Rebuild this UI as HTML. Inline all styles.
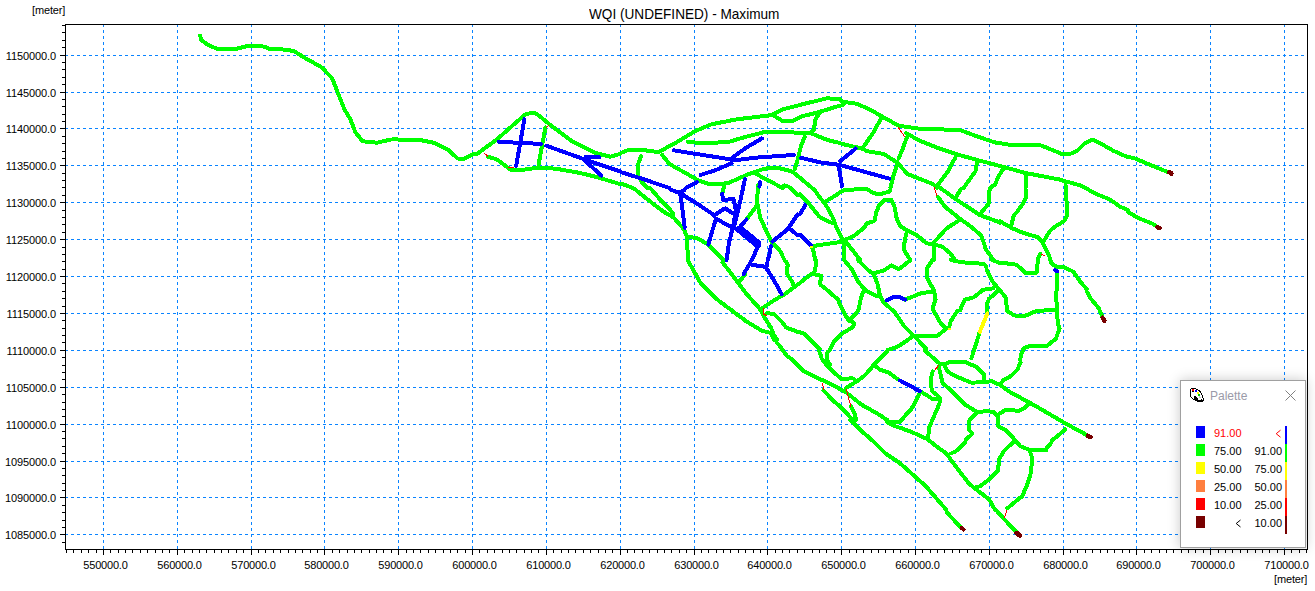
<!DOCTYPE html>
<html><head><meta charset="utf-8"><style>
html,body{margin:0;padding:0;background:#fff;width:1315px;height:591px;overflow:hidden;position:relative;font-family:"Liberation Sans",sans-serif;}
svg{position:absolute;left:0;top:0}
.xl{position:absolute;width:80px;text-align:center;font-size:11px;letter-spacing:-0.2px;line-height:14px;color:#000;white-space:nowrap}
.yl{position:absolute;left:0;width:56px;text-align:right;font-size:11px;letter-spacing:-0.1px;line-height:14px;color:#000;white-space:nowrap}
.t{position:absolute;font-size:13px;line-height:16px;color:#000;white-space:nowrap}
#pal{position:absolute;left:1180px;top:380px;width:124px;height:166px;background:#fff;border:1px solid #a0a0a0;box-shadow:0 0 12px rgba(0,0,0,0.22)}
#pal .ti{position:absolute;left:29px;top:8px;font-size:12px;color:#9a9aa8;}
.sq{position:absolute;left:15px;width:9px;height:12px}
.v1{position:absolute;left:33px;width:28px;text-align:left;font-size:11px;line-height:14px}
.v2{position:absolute;left:73px;width:28px;text-align:right;font-size:11px;line-height:14px}
.bar{position:absolute;left:104px;width:2px;height:18px}
</style></head><body>
<svg width="1315" height="591" viewBox="0 0 1315 591">
<path d="M103.5 24V549 M177.5 24V549 M251.5 24V549 M324.5 24V549 M398.5 24V549 M472.5 24V549 M546.5 24V549 M620.5 24V549 M694.5 24V549 M767.5 24V549 M841.5 24V549 M915.5 24V549 M989.5 24V549 M1063.5 24V549 M1136.5 24V549 M1210.5 24V549 M1284.5 24V549 M65 534.5H1307 M65 497.5H1307 M65 461.5H1307 M65 424.5H1307 M65 387.5H1307 M65 350.5H1307 M65 313.5H1307 M65 276.5H1307 M65 239.5H1307 M65 202.5H1307 M65 165.5H1307 M65 128.5H1307 M65 92.5H1307 M65 55.5H1307" stroke="#0a84ff" stroke-width="1" stroke-dasharray="3,3" fill="none" shape-rendering="crispEdges"/>
<path d="M65 24.5H1308 M65 549.5H1308 M65.5 24V550 M1307.5 24V550 M66.5 550v3 M73.5 550v3 M81.5 550v3 M88.5 550v3 M96.5 550v3 M103.5 550v5 M110.5 550v3 M118.5 550v3 M125.5 550v3 M132.5 550v3 M140.5 550v3 M147.5 550v3 M155.5 550v3 M162.5 550v3 M169.5 550v3 M177.5 550v5 M184.5 550v3 M192.5 550v3 M199.5 550v3 M206.5 550v3 M214.5 550v3 M221.5 550v3 M228.5 550v3 M236.5 550v3 M243.5 550v3 M251.5 550v5 M258.5 550v3 M265.5 550v3 M273.5 550v3 M280.5 550v3 M288.5 550v3 M295.5 550v3 M302.5 550v3 M310.5 550v3 M317.5 550v3 M324.5 550v5 M332.5 550v3 M339.5 550v3 M347.5 550v3 M354.5 550v3 M361.5 550v3 M369.5 550v3 M376.5 550v3 M383.5 550v3 M391.5 550v3 M398.5 550v5 M406.5 550v3 M413.5 550v3 M420.5 550v3 M428.5 550v3 M435.5 550v3 M443.5 550v3 M450.5 550v3 M457.5 550v3 M465.5 550v3 M472.5 550v5 M479.5 550v3 M487.5 550v3 M494.5 550v3 M502.5 550v3 M509.5 550v3 M516.5 550v3 M524.5 550v3 M531.5 550v3 M538.5 550v3 M546.5 550v5 M553.5 550v3 M561.5 550v3 M568.5 550v3 M575.5 550v3 M583.5 550v3 M590.5 550v3 M598.5 550v3 M605.5 550v3 M612.5 550v3 M620.5 550v5 M627.5 550v3 M634.5 550v3 M642.5 550v3 M649.5 550v3 M657.5 550v3 M664.5 550v3 M671.5 550v3 M679.5 550v3 M686.5 550v3 M694.5 550v5 M701.5 550v3 M708.5 550v3 M716.5 550v3 M723.5 550v3 M730.5 550v3 M738.5 550v3 M745.5 550v3 M753.5 550v3 M760.5 550v3 M767.5 550v5 M775.5 550v3 M782.5 550v3 M789.5 550v3 M797.5 550v3 M804.5 550v3 M812.5 550v3 M819.5 550v3 M826.5 550v3 M834.5 550v3 M841.5 550v5 M849.5 550v3 M856.5 550v3 M863.5 550v3 M871.5 550v3 M878.5 550v3 M885.5 550v3 M893.5 550v3 M900.5 550v3 M908.5 550v3 M915.5 550v5 M922.5 550v3 M930.5 550v3 M937.5 550v3 M944.5 550v3 M952.5 550v3 M959.5 550v3 M967.5 550v3 M974.5 550v3 M981.5 550v3 M989.5 550v5 M996.5 550v3 M1004.5 550v3 M1011.5 550v3 M1018.5 550v3 M1026.5 550v3 M1033.5 550v3 M1040.5 550v3 M1048.5 550v3 M1055.5 550v3 M1063.5 550v5 M1070.5 550v3 M1077.5 550v3 M1085.5 550v3 M1092.5 550v3 M1100.5 550v3 M1107.5 550v3 M1114.5 550v3 M1122.5 550v3 M1129.5 550v3 M1136.5 550v5 M1144.5 550v3 M1151.5 550v3 M1159.5 550v3 M1166.5 550v3 M1173.5 550v3 M1181.5 550v3 M1188.5 550v3 M1195.5 550v3 M1203.5 550v3 M1210.5 550v5 M1218.5 550v3 M1225.5 550v3 M1232.5 550v3 M1240.5 550v3 M1247.5 550v3 M1255.5 550v3 M1262.5 550v3 M1269.5 550v3 M1277.5 550v3 M1284.5 550v5 M1291.5 550v3 M1299.5 550v3 M1306.5 550v3 M62 25.5H65 M62 32.5H65 M62 40.5H65 M62 47.5H65 M60 55.5H65 M62 62.5H65 M62 69.5H65 M62 77.5H65 M62 84.5H65 M60 92.5H65 M62 99.5H65 M62 106.5H65 M62 114.5H65 M62 121.5H65 M60 128.5H65 M62 136.5H65 M62 143.5H65 M62 151.5H65 M62 158.5H65 M60 165.5H65 M62 173.5H65 M62 180.5H65 M62 187.5H65 M62 195.5H65 M60 202.5H65 M62 210.5H65 M62 217.5H65 M62 224.5H65 M62 232.5H65 M60 239.5H65 M62 247.5H65 M62 254.5H65 M62 261.5H65 M62 269.5H65 M60 276.5H65 M62 283.5H65 M62 291.5H65 M62 298.5H65 M62 306.5H65 M60 313.5H65 M62 320.5H65 M62 328.5H65 M62 335.5H65 M62 342.5H65 M60 350.5H65 M62 357.5H65 M62 365.5H65 M62 372.5H65 M62 379.5H65 M60 387.5H65 M62 394.5H65 M62 402.5H65 M62 409.5H65 M62 416.5H65 M60 424.5H65 M62 431.5H65 M62 438.5H65 M62 446.5H65 M62 453.5H65 M60 461.5H65 M62 468.5H65 M62 475.5H65 M62 483.5H65 M62 490.5H65 M60 497.5H65 M62 505.5H65 M62 512.5H65 M62 520.5H65 M62 527.5H65 M60 534.5H65 M62 542.5H65" stroke="#000" stroke-width="1" fill="none" shape-rendering="crispEdges"/>
<polyline points="200.2,35.7 200.7,37.7 201.2,39.7 202.7,41.0 204.3,42.2 205.9,43.5 207.6,44.5 209.5,45.4 211.3,46.2 213.2,47.1 215.0,48.0 216.9,48.7 218.9,48.7 221.0,48.7 223.0,48.7 225.0,48.7 227.1,48.7 229.1,48.7 231.1,48.7 233.1,48.7 235.2,48.7 237.2,48.6 239.1,48.1 241.1,47.6 243.0,47.1 245.0,46.6 246.9,46.1 248.9,45.6 250.9,45.8 252.9,45.9 255.0,46.0 257.0,46.1 259.0,46.3 261.1,46.4 263.1,46.5 265.1,46.6 266.9,47.6 268.7,48.6 270.7,48.9 272.7,49.0 274.8,49.1 276.8,49.1 278.8,49.2 280.9,49.3 282.9,49.5 284.9,49.8 287.0,50.0 289.0,50.3 291.0,50.6 293.0,50.8 294.9,51.7 296.6,52.8 298.3,53.9 300.1,54.9 301.8,56.0 303.6,57.1 305.3,58.2 307.1,59.2 308.8,60.2 310.6,61.1 312.3,62.1 314.1,63.1 315.8,64.1 317.6,65.1 319.3,66.1 321.1,67.1 322.7,68.3 324.1,69.8 325.5,71.3 326.9,72.8 328.3,74.2 329.7,75.7 331.1,77.2 332.3,78.8 333.1,80.7 333.8,82.5 334.5,84.4 335.3,86.3 336.0,88.1 336.7,90.0 337.5,91.9 338.2,93.8 339.0,95.6 339.7,97.5 340.4,99.4 341.2,101.2 341.9,103.1 342.7,105.0 343.4,106.8 344.1,108.7 345.1,110.5 346.2,112.3 347.2,114.0 348.3,115.8 349.3,117.6 350.4,119.3 351.1,121.2 351.9,123.1 352.6,125.0 353.3,126.9 354.0,128.8 354.8,130.7 355.5,132.5 356.8,134.1 358.1,135.7 359.4,137.3 360.7,138.9 361.9,140.5 363.6,141.4 365.6,141.6 367.7,141.8 369.7,142.0 371.7,142.2 373.8,142.4 375.8,142.6 377.8,142.5 379.7,142.0 381.7,141.6 383.6,141.1 385.6,140.7 387.6,140.2 389.5,139.8 390.0,139.6" fill="none" stroke="#00ff00" stroke-width="4" stroke-linejoin="round" stroke-linecap="round" shape-rendering="crispEdges"/>
<polyline points="392.2,139.4 394.2,139.4 396.2,139.4 398.2,139.5 400.2,139.5 402.2,139.5 404.3,139.5 406.3,139.6 408.3,139.6 410.3,139.6 412.3,139.6 414.4,139.7 416.4,139.7 418.4,139.7 420.4,140.1 422.4,140.5 424.4,140.9 426.4,141.3 428.4,141.7 430.3,142.1 432.3,142.5 434.3,142.9 436.2,143.7 438.0,144.6 439.9,145.5 441.7,146.4 443.5,147.3 445.3,148.3 447.2,149.2 448.7,150.4 450.2,151.8 451.7,153.1 453.2,154.5 454.7,155.8 456.2,157.2 457.7,158.5 459.8,158.7 461.9,158.8 464.1,158.9 465.9,157.9 467.7,156.9 469.6,155.9 471.4,155.0 473.2,154.0 475.3,154.0 477.3,153.7 478.9,152.5 480.6,151.3 482.2,150.1 483.8,148.9 485.5,147.7 487.1,146.5 488.8,145.3 490.4,144.1 492.1,142.9 493.7,141.7 495.3,140.5 497.0,139.4 498.5,138.0 500.0,136.7 501.5,135.4 503.0,134.0 504.5,132.7 506.0,131.4 507.4,130.0 508.9,128.7 510.4,127.4 511.9,126.1 513.4,124.7 515.0,123.4 516.5,122.1 518.1,120.7 519.6,119.4 521.2,118.1 522.7,116.8 524.3,115.4 525.8,114.1 527.8,113.6 529.8,113.4 531.9,113.1 533.9,112.9 535.8,113.7 537.6,114.8 539.4,115.9 541.0,117.2 542.5,118.5 544.1,119.8 545.7,121.1 547.2,122.4 548.8,123.7 550.4,125.0 552.0,126.3 553.6,127.5 555.3,128.7 556.9,129.9 558.5,131.1 560.1,132.3 561.8,133.6 563.4,134.8 565.0,136.0 566.6,137.2 568.3,138.4 569.9,139.7 571.5,140.9 573.3,141.9 575.1,142.7 576.9,143.6 578.6,144.5 580.4,145.4 582.2,146.3 584.0,147.2 585.8,148.1 587.6,149.0 589.4,149.9 591.2,150.8 593.0,151.7 594.8,152.6 596.7,153.3 598.6,153.8 600.6,154.3 602.5,154.8 604.5,155.3 606.4,155.7 608.4,156.2 610.3,156.7 612.2,156.2 614.2,155.6 616.1,155.1 618.1,154.5 620.0,154.0 620.0,154.0" fill="none" stroke="#00ff00" stroke-width="4" stroke-linejoin="round" stroke-linecap="round" shape-rendering="crispEdges"/>
<polyline points="487.8,156.7 489.8,157.3 491.7,157.9 493.6,158.4 495.5,159.0 497.4,159.8 499.0,161.0 500.6,162.2 502.3,163.4 503.9,164.6 505.5,165.9 507.1,167.1 508.8,168.3 510.4,169.5 512.1,170.4 514.2,170.4 516.3,170.4 518.4,170.4 520.4,170.2 522.5,169.9 524.5,169.6 526.5,169.3 528.6,169.0 530.6,168.7 532.6,168.4 534.7,168.1 536.7,167.8 538.7,167.8 540.7,167.9 542.8,168.0 544.8,168.1 546.8,168.2 548.9,168.3 550.9,168.4 552.9,168.5 555.0,168.6 557.0,168.9 559.0,169.2 561.0,169.6 563.0,169.9 565.0,170.3 567.0,170.7 569.0,171.0 571.0,171.4 573.0,171.7 575.0,172.1 577.0,172.4 579.1,172.8 581.1,173.2 583.0,173.7 585.0,174.2 587.0,174.6 589.0,175.1 590.9,175.6 592.9,176.1 594.9,176.6 596.9,177.1 598.8,177.6 600.8,178.2 602.7,178.8 604.6,179.4 606.5,180.0 608.5,180.6 610.4,181.2 612.3,181.8 614.2,182.3 616.2,182.9 618.1,183.5 620.0,184.1 620.0,184.1" fill="none" stroke="#00ff00" stroke-width="4" stroke-linejoin="round" stroke-linecap="round" shape-rendering="crispEdges"/>
<polyline points="545.4,127.5 545.1,129.4 544.7,131.4 544.3,133.4 544.0,135.4 543.6,137.4 543.2,139.3 542.9,141.3 542.5,143.3 542.1,145.3 541.8,147.2 541.4,149.2 541.0,151.2 540.7,153.2 540.3,155.1 539.9,157.1 539.6,159.1 539.2,161.1 538.8,163.0 538.7,164.0" fill="none" stroke="#00ff00" stroke-width="4" stroke-linejoin="round" stroke-linecap="round" shape-rendering="crispEdges"/>
<polyline points="621.8,152.6 623.7,151.8 625.5,151.1 627.4,150.4 629.4,150.4 631.5,150.4 633.5,150.4 635.5,150.4 637.6,150.4 639.6,150.4 641.6,150.4 643.7,150.4 645.7,150.4 647.7,150.7 649.8,151.0 651.8,151.2 653.9,151.5 655.9,151.8 658.0,152.1 659.8,151.5 661.6,150.5 663.4,149.5 665.2,148.5 667.0,147.5 668.7,146.6 670.5,145.6 672.3,144.6 674.1,143.6 675.9,142.6 677.6,141.6 679.4,140.6 681.1,139.5 682.9,138.5 684.6,137.4 686.3,136.4 688.1,135.4 689.8,134.3 691.6,133.3 693.3,132.2 695.0,131.2 696.9,130.4 698.8,129.6 700.7,128.8 702.6,128.0 704.4,127.2 706.3,126.4 708.2,125.6 710.1,124.8 712.0,124.1 714.0,123.8 715.9,123.4 717.9,123.0 719.9,122.6 721.8,122.2 723.8,121.9 725.8,121.5 727.7,121.1 729.7,120.7 731.7,120.3 733.6,120.0 735.6,119.6 737.6,119.2 739.6,119.0 741.6,118.7 743.6,118.5 745.6,118.3 747.7,118.0 749.7,117.8 751.7,117.5 753.7,117.3 755.7,117.0 757.7,116.8 759.7,116.6 761.7,116.3 763.8,116.1 765.8,115.8 767.8,115.6 769.8,115.3 771.8,115.1 773.6,114.1 775.5,113.1 777.3,112.2 779.1,111.2 781.0,110.2 782.8,109.2 784.8,108.8 786.7,108.3 788.7,107.8 790.7,107.3 792.7,106.8 794.6,106.3 796.6,105.8 798.6,105.3 800.6,104.8 802.5,104.3 804.5,103.8 806.5,103.3 808.4,102.8 810.4,102.3 812.4,101.8 814.3,101.4 816.3,100.9 818.3,100.4 820.3,99.9 822.2,99.4 824.2,98.9 826.2,98.4 828.2,98.4 830.2,98.5 832.3,98.7 834.3,98.8 836.4,98.9 838.5,99.1 840.0,99.2" fill="none" stroke="#00ff00" stroke-width="4" stroke-linejoin="round" stroke-linecap="round" shape-rendering="crispEdges"/>
<polyline points="773.6,115.6 775.4,116.7 777.1,117.7 778.9,118.8 780.6,119.8 782.3,120.9 784.3,121.1 786.3,121.1 788.4,121.1 790.4,121.1 792.4,120.9 794.2,120.0 796.0,119.1 797.9,118.2 799.7,117.2 801.6,116.4 803.5,115.9 805.5,115.4 807.5,115.0 809.5,114.5 811.4,114.0 813.4,113.5 815.4,113.0 817.4,112.5 819.3,112.0 821.3,111.4 823.2,110.8 825.1,110.2 827.0,109.6 828.9,109.0 830.9,108.4 832.8,107.8 834.7,107.2 836.6,106.6 838.6,106.0 840.0,105.6" fill="none" stroke="#00ff00" stroke-width="4" stroke-linejoin="round" stroke-linecap="round" shape-rendering="crispEdges"/>
<polyline points="687.7,141.8 689.8,142.0 691.8,142.2 693.9,142.4 695.9,142.6 698.0,142.8 700.0,143.0 702.1,143.0 704.1,142.9 706.1,142.9 708.1,142.8 710.2,142.7 712.2,142.7 714.2,142.6 716.3,142.5 718.3,142.5 720.3,142.4 722.4,142.3 724.4,142.3 726.4,142.2 728.4,142.0 730.4,141.4 732.3,140.8 734.2,140.3 736.1,139.7 738.0,139.1 740.0,138.5 741.9,138.0 743.8,137.4 745.7,136.8 747.7,136.3 749.7,135.8 751.7,135.3 753.6,134.8 755.6,134.3 757.6,133.8 759.6,133.3 761.5,132.8 763.5,132.3 765.5,132.1 767.6,132.1 769.6,132.1 771.6,132.1 773.6,132.1 775.7,132.1 777.7,132.1 779.7,132.1 781.8,132.1 783.8,132.1 785.8,132.2 787.9,132.3 789.9,132.3 791.9,132.4 794.0,132.5 796.0,132.5 798.0,132.6 800.0,132.7 802.1,132.7 804.1,132.8 806.1,132.9 808.2,132.9 810.2,133.0 812.1,133.8 813.9,134.5 815.8,135.3 817.7,136.0 819.6,136.8 821.4,137.5 823.3,138.3 825.2,139.0 827.1,139.8 829.0,140.4 831.0,140.9 833.0,141.4 835.0,141.9 837.0,142.3 839.0,142.8 840.0,143.1" fill="none" stroke="#00ff00" stroke-width="4" stroke-linejoin="round" stroke-linecap="round" shape-rendering="crispEdges"/>
<polyline points="821.2,111.1 819.9,112.7 818.7,114.3 817.5,115.9 816.3,117.6 815.5,119.4 815.2,121.4 814.9,123.4 814.5,125.4 814.2,127.4 813.9,129.4 812.4,130.8 810.9,132.3 810.2,133.0" fill="none" stroke="#00ff00" stroke-width="4" stroke-linejoin="round" stroke-linecap="round" shape-rendering="crispEdges"/>
<polyline points="804.7,136.7 803.9,138.6 803.2,140.5 802.4,142.4 801.6,144.4 800.9,146.3 800.5,148.2 800.0,150.2 799.5,152.1 799.0,154.1 798.5,156.0 798.0,158.0 797.5,159.9 797.0,161.9 796.4,163.8 795.8,165.7 795.2,167.6 794.7,169.6 794.7,169.6" fill="none" stroke="#00ff00" stroke-width="4" stroke-linejoin="round" stroke-linecap="round" shape-rendering="crispEdges"/>
<polyline points="662.1,154.9 663.4,156.5 664.7,158.1 666.0,159.7 667.2,161.3 668.5,162.9 669.9,164.3 671.7,165.3 673.5,166.3 675.2,167.3 677.0,168.3 678.8,169.3 680.6,170.3 682.4,171.2 684.1,172.2 685.9,173.2 687.7,174.2 689.4,175.2 691.2,176.2 693.0,177.3 694.7,178.3 696.5,179.3 698.3,180.3 700.1,181.0 702.0,181.6 703.9,182.3 705.9,182.9 707.8,183.5 709.7,184.2 711.7,184.1 713.7,184.0 715.8,183.9 717.8,183.8 719.8,183.7 721.9,183.6 723.9,183.5 725.9,183.4 727.9,183.3 729.8,182.4 731.6,181.6 733.4,180.8 735.3,180.0 737.1,179.2 738.9,178.3 740.7,177.5 742.6,176.7 744.4,175.9 746.2,175.0 748.1,174.4 750.1,173.7 752.0,173.0 753.9,172.4 755.8,171.7 757.8,171.0 759.7,170.3 761.6,169.7 763.5,169.0 765.5,168.6 767.6,168.4 769.6,168.3 771.7,168.1 773.7,168.0 775.8,167.8 777.8,167.9 779.7,168.3 781.7,168.8 783.6,169.3 785.6,169.8 787.5,170.3 789.5,170.8 791.4,171.3 793.1,172.3 794.7,173.6 796.3,174.9 797.9,176.2 799.5,177.4 801.1,178.7 802.6,180.0 804.2,181.4 805.8,182.7 807.3,184.0 808.9,185.4 810.5,186.7 812.0,188.0 812.0,188.0" fill="none" stroke="#00ff00" stroke-width="4" stroke-linejoin="round" stroke-linecap="round" shape-rendering="crispEdges"/>
<polyline points="755.4,173.2 757.1,174.3 758.8,175.3 760.6,176.4 762.3,177.4 764.1,178.4 765.9,179.4 767.7,180.3 769.5,181.2 771.4,182.1 773.2,183.0 775.0,184.0 776.8,184.9 778.7,185.9 780.5,186.8 782.3,187.8 782.8,188.0" fill="none" stroke="#00ff00" stroke-width="4" stroke-linejoin="round" stroke-linecap="round" shape-rendering="crispEdges"/>
<polyline points="641.1,155.9 640.4,157.8 639.7,159.7 639.0,161.6 638.3,163.5 637.6,165.4 637.5,167.4 637.5,169.5 637.5,171.5 637.5,173.5 637.7,175.5 638.8,177.2 639.9,178.9 641.0,180.6 642.0,182.4 643.5,183.9 645.0,185.4 646.4,186.9 647.5,188.0" fill="none" stroke="#00ff00" stroke-width="4" stroke-linejoin="round" stroke-linecap="round" shape-rendering="crispEdges"/>
<polyline points="622.1,183.8 623.9,184.6 625.8,185.3 627.7,186.0 629.6,186.7 631.5,187.5 632.9,188.0" fill="none" stroke="#00ff00" stroke-width="4" stroke-linejoin="round" stroke-linecap="round" shape-rendering="crispEdges"/>
<polyline points="841.4,101.0 843.3,101.8 845.3,102.2 847.3,102.4 849.4,102.7 851.4,103.0 853.5,103.3 855.5,103.6 857.5,104.2 859.4,105.0 861.3,105.8 863.2,106.6 865.1,107.4 867.0,108.2 868.9,109.0 870.7,110.0 872.4,111.0 874.2,112.0 876.0,113.0 877.7,114.0 879.5,115.0 881.3,116.1 883.0,117.1 884.8,118.0 886.6,119.0 888.4,120.0 890.1,121.0 891.9,122.0 893.7,123.0 895.5,124.0 897.3,125.0 899.1,125.8 901.1,126.1 903.2,126.4 905.2,126.7 907.2,127.0 909.3,127.3 911.3,127.6 913.3,127.9 915.4,128.2 917.4,128.5 919.4,128.6 921.4,128.6 923.4,128.7 925.4,128.8 927.4,128.9 929.4,129.0 931.5,129.1 933.5,129.2 935.5,129.3 937.5,129.4 939.5,129.4 941.6,129.4 943.6,129.5 945.7,129.5 947.7,129.5 949.7,129.6 951.8,129.6 953.8,129.6 955.9,129.7 957.9,129.7 959.9,130.1 961.7,130.8 963.6,131.4 965.5,132.1 967.4,132.8 969.3,133.5 971.1,134.2 973.0,134.9 974.9,135.6 976.8,136.3 978.7,136.9 980.7,137.6 982.6,138.3 984.5,138.9 986.4,139.6 988.4,140.3 990.3,141.0 992.2,141.6 994.1,142.2 996.2,142.6 998.2,142.9 1000.2,143.2 1002.2,143.5 1004.2,143.9 1006.2,144.2 1008.2,144.5 1010.2,144.9 1012.2,145.2 1014.3,145.4 1016.3,145.4 1018.3,145.4 1020.3,145.4 1022.4,145.4 1024.4,145.4 1026.4,145.4 1028.5,145.4 1030.5,145.4 1032.5,145.4 1034.6,145.4 1036.6,145.4 1038.6,145.4 1040.7,145.4 1042.6,146.0 1044.5,146.8 1046.3,147.5 1048.2,148.3 1050.1,149.1 1052.0,149.9 1053.9,150.6 1055.8,151.4 1057.6,152.2 1059.5,152.9 1060.0,153.1" fill="none" stroke="#00ff00" stroke-width="4" stroke-linejoin="round" stroke-linecap="round" shape-rendering="crispEdges"/>
<polyline points="842.3,105.2 843.9,103.6 844.7,102.8" fill="none" stroke="#00ff00" stroke-width="4" stroke-linejoin="round" stroke-linecap="round" shape-rendering="crispEdges"/>
<polyline points="841.7,143.9 843.7,144.3 845.7,144.8 847.7,145.2 849.7,145.7 851.6,146.1 853.6,146.6 855.6,147.1 857.6,147.5 859.6,148.0 861.5,148.4 863.4,149.2 865.2,150.1 867.1,151.1 869.0,151.5 871.0,151.9 873.0,152.2 875.0,152.5 877.0,152.9 879.0,153.2 881.0,153.5 883.0,153.9 884.8,154.6 886.5,155.7 888.2,156.8 889.9,157.9 891.7,159.0 893.4,160.1 895.1,161.2 896.8,162.3 898.1,163.7 899.5,165.2 900.9,166.7 902.3,168.2 903.6,169.7 905.0,171.2 906.4,172.6 907.7,174.1 909.6,174.9 911.5,175.6 913.4,176.4 915.3,177.1 917.2,177.9 919.1,178.6 921.0,179.3 922.9,180.1 924.8,180.8 926.7,181.6 928.6,182.3 930.5,183.1 932.4,183.8 934.1,185.0 935.5,186.5 937.0,188.0 937.0,188.0" fill="none" stroke="#00ff00" stroke-width="4" stroke-linejoin="round" stroke-linecap="round" shape-rendering="crispEdges"/>
<polyline points="905.9,133.0 907.7,134.0 909.4,135.0 911.2,136.0 913.0,137.0 914.7,138.0 916.5,139.1 918.3,140.1 920.1,140.9 922.0,141.6 923.9,142.4 925.7,143.1 927.6,143.9 929.5,144.6 931.4,145.4 933.2,146.1 935.1,146.9 937.0,147.6 938.9,148.3 940.8,148.9 942.7,149.5 944.6,150.2 946.5,150.8 948.4,151.4 950.3,152.1 952.2,152.7 954.1,153.4 956.1,154.0 958.0,154.6 959.9,155.2 961.9,155.7 963.8,156.3 965.8,156.8 967.7,157.3 969.7,157.9 971.7,158.4 973.6,159.0 975.6,159.5 977.5,160.0 979.5,160.6 981.4,161.1 983.4,161.6 985.3,162.1 987.3,162.6 989.2,163.2 991.1,163.7 993.1,164.2 995.0,164.7 997.0,165.3 998.9,165.8 1000.8,166.3 1002.8,166.8 1004.7,167.3 1006.7,167.9 1008.6,168.4 1010.5,168.9 1012.5,169.4 1014.4,170.0 1016.4,170.5 1018.3,171.0 1020.2,171.5 1022.2,172.0 1024.1,172.6 1026.1,173.1 1028.0,173.5 1030.0,173.9 1032.0,174.3 1033.9,174.6 1035.9,175.0 1037.9,175.4 1039.8,175.8 1041.8,176.1 1043.8,176.5 1045.7,176.9 1047.7,177.3 1049.7,177.6 1051.6,178.0 1053.6,178.4 1055.6,178.8 1057.5,179.1 1059.5,179.5 1060.0,179.6" fill="none" stroke="#00ff00" stroke-width="4" stroke-linejoin="round" stroke-linecap="round" shape-rendering="crispEdges"/>
<polyline points="881.2,118.4 880.2,120.2 879.2,121.9 878.2,123.7 877.2,125.5 876.2,127.2 875.2,129.0 874.3,130.8 873.3,132.6 872.1,134.3 871.0,135.9 869.8,137.6 868.7,139.3 867.5,140.9 866.4,142.6 865.3,144.3 864.1,146.0 863.0,147.6 863.0,147.6" fill="none" stroke="#00ff00" stroke-width="4" stroke-linejoin="round" stroke-linecap="round" shape-rendering="crispEdges"/>
<polyline points="906.8,137.6 906.1,139.5 905.4,141.4 904.7,143.3 904.0,145.2 903.3,147.2 902.6,149.1 901.8,151.0 901.0,152.9 900.2,154.8 899.4,156.7 898.6,158.6 898.6,158.6" fill="none" stroke="#00ff00" stroke-width="4" stroke-linejoin="round" stroke-linecap="round" shape-rendering="crispEdges"/>
<polyline points="955.3,157.7 954.3,159.5 953.4,161.2 952.4,163.0 951.5,164.8 950.5,166.5 949.6,168.3 948.7,170.1 947.6,171.8 946.4,173.4 945.2,175.0 944.0,176.7 942.8,178.3 941.5,179.9 940.3,181.5 939.1,183.2 937.9,184.8 937.0,186.0" fill="none" stroke="#00ff00" stroke-width="4" stroke-linejoin="round" stroke-linecap="round" shape-rendering="crispEdges"/>
<polyline points="977.2,161.3 976.8,163.3 976.5,165.4 976.1,167.4 975.7,169.4 975.4,171.4 974.2,173.0 973.0,174.7 971.8,176.3 970.6,178.0 969.5,179.6 968.3,181.3 967.1,182.9 965.9,184.6 964.7,186.3 963.5,188.0 963.5,188.0" fill="none" stroke="#00ff00" stroke-width="4" stroke-linejoin="round" stroke-linecap="round" shape-rendering="crispEdges"/>
<polyline points="1002.8,169.6 1001.7,171.3 1000.7,173.0 999.6,174.8 998.6,176.5 997.6,178.3 996.8,180.2 996.1,182.2 995.5,184.2 993.8,185.4 992.1,186.5 990.4,187.7 990.0,188.0" fill="none" stroke="#00ff00" stroke-width="4" stroke-linejoin="round" stroke-linecap="round" shape-rendering="crispEdges"/>
<polyline points="1026.5,175.0 1026.4,177.0 1026.3,179.0 1026.1,181.0 1026.0,183.0 1025.8,185.0 1025.7,187.0 1025.6,188.0" fill="none" stroke="#00ff00" stroke-width="4" stroke-linejoin="round" stroke-linecap="round" shape-rendering="crispEdges"/>
<polyline points="896.8,165.9 896.1,167.8 895.5,169.7 894.9,171.6 894.2,173.5 893.6,175.4 893.0,177.4 892.5,179.4 892.0,181.4 891.5,183.5 891.0,185.5 890.5,187.5 890.4,188.0" fill="none" stroke="#00ff00" stroke-width="4" stroke-linejoin="round" stroke-linecap="round" shape-rendering="crispEdges"/>
<polyline points="1062.0,154.1 1064.0,154.1 1066.0,154.0 1068.0,153.8 1070.1,153.6 1072.1,153.3 1073.9,152.3 1075.8,151.4 1077.7,150.5 1079.1,149.0 1080.6,147.6 1082.0,146.1 1083.5,144.7 1084.9,143.2 1086.7,142.2 1088.5,141.3 1090.3,140.4 1092.2,139.5 1094.0,140.4 1095.8,141.3 1097.6,142.2 1099.4,143.0 1101.2,143.9 1103.0,144.9 1104.8,145.9 1106.6,146.9 1108.4,147.9 1110.2,148.9 1112.0,150.0 1113.8,151.0 1115.6,151.8 1117.5,152.7 1119.4,153.5 1121.3,154.3 1123.1,155.1 1125.0,155.9 1126.9,156.7 1129.0,157.1 1131.0,157.5 1133.0,157.9 1135.0,158.5 1136.9,159.3 1138.7,160.0 1140.6,160.8 1142.5,161.6 1144.4,162.4 1146.2,163.2 1148.1,163.9 1150.0,164.7 1151.9,165.5 1153.7,166.3 1155.6,167.0 1157.4,167.8 1159.3,168.6 1161.2,169.3 1163.0,170.1 1164.9,170.8 1166.8,171.6 1168.6,172.4 1169.1,172.6" fill="none" stroke="#00ff00" stroke-width="4" stroke-linejoin="round" stroke-linecap="round" shape-rendering="crispEdges"/>
<polyline points="1062.0,180.4 1064.0,180.9 1065.9,181.5 1067.9,182.0 1069.9,182.5 1071.9,183.1 1073.8,183.6 1075.8,184.2 1077.8,184.7 1079.7,185.2 1081.6,186.0 1083.4,186.9 1085.1,187.9 1086.9,188.9 1088.7,189.8 1090.4,190.8 1092.2,191.8 1094.0,192.7 1095.7,193.7 1097.5,194.6 1099.4,195.3 1101.2,196.0 1103.1,196.7 1105.0,197.5 1106.9,198.2 1108.7,198.9 1110.5,199.8 1112.1,201.0 1113.8,202.1 1115.4,203.3 1117.1,204.5 1118.7,205.7 1120.3,206.8 1122.2,207.6 1124.1,208.4 1126.0,209.2 1128.0,210.0 1128.0,210.0" fill="none" stroke="#00ff00" stroke-width="4" stroke-linejoin="round" stroke-linecap="round" shape-rendering="crispEdges"/>
<polyline points="1026.2,190.1 1026.1,192.1 1026.0,194.1 1025.9,196.2 1025.7,198.2 1024.7,200.0 1023.8,201.9 1022.8,203.8 1021.6,205.4 1020.4,207.1 1019.2,208.8 1018.3,210.0" fill="none" stroke="#00ff00" stroke-width="4" stroke-linejoin="round" stroke-linecap="round" shape-rendering="crispEdges"/>
<polyline points="1065.5,184.7 1065.6,186.8 1065.7,188.8 1065.9,190.8 1066.0,192.8 1066.1,194.9 1066.2,196.9 1066.4,198.9 1066.5,200.9 1066.6,202.9 1066.7,205.0 1066.8,207.0 1067.0,209.0 1067.0,210.0" fill="none" stroke="#00ff00" stroke-width="4" stroke-linejoin="round" stroke-linecap="round" shape-rendering="crispEdges"/>
<polyline points="1128.3,212.4 1130.1,213.3 1131.9,214.3 1133.6,215.3 1135.3,216.4 1137.1,217.5 1139.0,218.3 1140.9,219.0 1142.8,219.8 1144.7,220.6 1146.6,221.3 1148.5,222.1 1150.4,222.8 1152.3,223.6 1154.2,224.8 1156.0,226.0 1156.9,226.7" fill="none" stroke="#00ff00" stroke-width="4" stroke-linejoin="round" stroke-linecap="round" shape-rendering="crispEdges"/>
<polyline points="1000.0,221.3 1001.8,222.3 1003.6,223.4 1005.4,224.4 1007.2,225.4 1009.0,226.4 1010.8,227.4 1012.6,228.4 1014.5,229.2 1016.4,230.0 1018.2,230.8 1020.1,231.6 1021.9,232.4 1023.8,233.0 1025.8,233.6 1027.8,234.2 1029.7,234.8 1031.7,235.4 1033.7,236.0 1035.6,236.6 1037.6,237.2 1039.1,238.5 1040.4,240.0 1041.7,241.5 1042.9,243.1 1043.8,244.9 1044.7,246.7 1045.6,248.5 1046.5,250.3 1047.4,252.1 1048.3,253.9 1049.1,255.8 1049.7,257.7 1050.3,259.6 1051.0,261.6 1051.6,263.5 1053.2,264.7 1055.1,265.6 1056.9,266.6 1058.9,267.0 1060.9,267.0 1063.0,267.0 1064.9,267.5 1066.7,268.4 1068.5,269.3 1070.4,270.2 1072.2,271.1 1073.7,272.4 1074.9,274.1 1076.0,275.7 1077.2,277.3 1078.4,279.0 1079.6,280.6 1080.7,282.3 1082.1,283.8 1083.4,285.3 1084.8,286.8 1086.1,288.3 1086.8,289.1" fill="none" stroke="#00ff00" stroke-width="4" stroke-linejoin="round" stroke-linecap="round" shape-rendering="crispEdges"/>
<polyline points="1066.9,212.2 1067.0,214.2 1066.6,216.2 1065.6,218.0 1064.7,219.9 1063.5,221.6 1061.8,222.6 1060.1,223.6 1058.3,224.6 1056.6,225.6 1054.8,226.7 1053.2,228.0 1051.5,229.4 1050.0,230.9 1048.9,232.6 1047.9,234.3 1046.8,236.1 1045.8,237.8 1044.7,239.5 1044.2,240.4" fill="none" stroke="#00ff00" stroke-width="4" stroke-linejoin="round" stroke-linecap="round" shape-rendering="crispEdges"/>
<polyline points="1017.0,212.0 1015.5,213.4 1014.1,214.9 1013.4,216.7 1012.9,218.7 1012.5,220.7 1012.0,222.7 1011.5,224.6 1011.4,225.1" fill="none" stroke="#00ff00" stroke-width="4" stroke-linejoin="round" stroke-linecap="round" shape-rendering="crispEdges"/>
<polyline points="1000.0,262.5 1002.0,262.7 1004.1,263.0 1006.1,263.3 1008.1,263.6 1010.2,263.8 1012.2,264.1 1014.2,264.4 1016.2,264.7 1017.9,265.8 1019.4,267.2 1020.9,268.6 1022.5,270.0 1024.0,271.4 1025.5,272.8 1027.4,273.1 1029.4,273.1 1031.5,273.1 1033.5,273.1 1035.5,273.1 1036.7,272.1 1036.9,270.1 1037.1,268.0 1037.3,266.0 1037.5,264.0 1037.7,261.9 1037.9,259.9 1038.1,257.9 1039.2,256.0 1040.4,254.1 1040.4,254.1" fill="none" stroke="#00ff00" stroke-width="4" stroke-linejoin="round" stroke-linecap="round" shape-rendering="crispEdges"/>
<polyline points="1056.7,273.9 1056.7,275.9 1056.7,277.9 1056.7,279.9 1056.7,281.9 1056.7,284.0 1056.7,286.0 1056.7,288.0 1056.7,290.0 1056.7,290.0" fill="none" stroke="#00ff00" stroke-width="4" stroke-linejoin="round" stroke-linecap="round" shape-rendering="crispEdges"/>
<polyline points="1086.7,291.4 1087.7,293.2 1088.7,294.9 1089.7,296.7 1090.7,298.5 1092.0,300.1 1093.3,301.7 1094.6,303.3 1096.0,304.9 1097.3,306.5 1098.6,308.1 1099.5,309.9 1100.3,311.8 1101.2,313.7 1102.0,315.5 1102.4,316.5" fill="none" stroke="#00ff00" stroke-width="4" stroke-linejoin="round" stroke-linecap="round" shape-rendering="crispEdges"/>
<polyline points="986.7,270.0 987.6,271.9 988.5,273.7 989.4,275.6 990.4,277.4 991.3,279.3 992.3,281.1 993.6,282.7 994.9,284.3 996.2,285.9 997.4,287.5 998.7,289.1 1000.1,290.7 1001.4,292.3 1002.7,293.8 1004.0,295.4 1005.4,297.0 1005.9,298.9 1006.1,301.0 1006.3,303.0 1006.5,305.0 1006.8,307.1 1007.0,309.1 1007.2,311.1 1009.0,312.2 1010.8,313.3 1012.6,314.4 1014.4,315.4 1016.4,315.7 1018.4,315.7 1020.4,315.7 1022.5,315.7 1024.5,315.7 1026.4,315.3 1028.3,314.5 1030.1,313.7 1032.0,312.9 1033.8,312.1 1035.7,311.3 1037.7,311.0 1039.7,310.8 1041.7,310.7 1043.8,310.5 1045.8,310.4 1047.8,310.4 1049.9,310.4 1051.9,310.4 1053.9,310.4 1054.4,310.4" fill="none" stroke="#00ff00" stroke-width="4" stroke-linejoin="round" stroke-linecap="round" shape-rendering="crispEdges"/>
<polyline points="1056.2,292.3 1056.2,294.4 1056.3,296.4 1056.3,298.4 1056.4,300.5 1056.6,302.5 1056.7,304.5 1056.8,306.6 1056.9,308.6 1057.0,310.6 1057.1,312.7 1057.3,314.7 1057.4,316.7 1057.5,318.7 1057.5,320.8 1057.5,322.8 1058.2,324.7 1059.1,326.5 1059.6,328.4 1058.9,330.3 1058.2,332.2 1057.5,334.2 1056.8,336.1 1056.1,338.1 1054.8,339.5 1053.2,340.9 1051.6,342.2 1050.0,343.5 1048.4,344.8 1046.8,346.2 1044.8,346.0 1042.8,345.9 1040.7,345.8 1038.7,345.7 1036.7,345.6 1034.6,345.5 1032.6,345.5 1030.6,346.0 1028.5,346.5 1026.5,347.1 1024.5,347.6 1023.4,349.1 1022.6,351.0 1021.9,352.9 1021.1,354.8 1020.7,356.9 1020.3,359.0 1020.2,360.0" fill="none" stroke="#00ff00" stroke-width="4" stroke-linejoin="round" stroke-linecap="round" shape-rendering="crispEdges"/>
<polyline points="960.0,310.4 960.8,308.5 961.6,306.7 962.4,304.8 963.2,302.9 964.0,301.1 965.1,299.6 967.1,299.1 969.1,298.6 971.2,298.1 973.2,297.5 974.9,296.4 976.5,295.1 978.1,293.8 979.7,292.5 981.3,291.1 982.8,289.8 984.9,289.5 986.9,289.2 988.9,288.9 991.0,288.6 993.0,288.4 993.5,288.3" fill="none" stroke="#00ff00" stroke-width="4" stroke-linejoin="round" stroke-linecap="round" shape-rendering="crispEdges"/>
<polyline points="996.6,292.1 995.0,293.5 993.5,294.8 992.0,296.2 990.5,297.6 988.9,298.9 988.2,300.8 987.5,302.7 986.8,304.6 986.8,306.6 987.0,308.7 987.2,310.8 987.4,312.9 987.4,313.4" fill="none" stroke="#00ff00" stroke-width="4" stroke-linejoin="round" stroke-linecap="round" shape-rendering="crispEdges"/>
<polyline points="979.8,331.7 979.2,333.6 978.6,335.6 978.0,337.5 977.4,339.4 976.8,341.4 976.1,343.3 975.5,345.3 974.9,347.2 974.3,349.1 973.7,351.1 973.1,353.0 972.5,355.0 971.9,356.9 971.4,358.3" fill="none" stroke="#00ff00" stroke-width="4" stroke-linejoin="round" stroke-linecap="round" shape-rendering="crispEdges"/>
<polyline points="924.4,350.0 925.9,351.4 927.4,352.7 928.9,354.1 930.5,355.5 932.0,356.9 933.5,358.2 935.0,359.6 936.6,361.0 938.1,362.3 939.6,363.7 941.6,364.0 943.7,364.4 945.6,363.8 947.5,362.8 949.3,361.9 951.3,361.5 953.3,361.6 955.3,361.7 957.4,361.8 959.4,361.9 961.4,362.0 963.5,362.1 965.5,362.2 967.4,363.0 969.2,363.8 971.1,364.6 972.9,365.4 974.8,366.2 976.5,367.1 978.0,368.6 979.4,370.0 980.9,371.5 982.3,372.9 983.8,374.4 984.0,376.5 984.2,378.6 984.5,380.7 984.5,381.2" fill="none" stroke="#00ff00" stroke-width="4" stroke-linejoin="round" stroke-linecap="round" shape-rendering="crispEdges"/>
<polyline points="944.2,364.5 945.0,366.3 945.8,368.1 946.6,370.0 947.7,371.6 949.5,372.7 951.3,373.7 953.0,374.8 954.8,375.9 956.7,376.7 958.6,377.4 960.4,378.2 962.3,378.9 964.1,379.7 966.0,380.5 967.9,381.2 969.7,382.0 971.6,382.7 973.6,382.6 975.7,382.5 977.7,382.4 979.7,382.3 981.7,382.2 983.8,382.1 985.8,381.9 987.8,381.7 989.9,381.4 991.9,381.4 993.8,382.2 995.7,383.0 997.6,383.8 999.6,384.6 1001.4,385.7 1003.0,386.9 1004.7,388.1 1006.3,389.4 1008.0,390.6 1009.7,391.9 1011.5,392.9 1013.3,393.8 1015.1,394.8 1016.9,395.8 1018.7,396.7 1020.5,397.7 1022.3,398.7 1024.1,399.6 1025.9,400.6 1027.7,401.6 1029.5,402.6 1031.2,403.6 1033.0,404.6 1034.8,405.6 1036.5,406.6 1038.3,407.6 1040.0,408.6 1041.8,409.7 1043.6,410.7 1045.3,411.7 1047.1,412.7 1048.8,413.7 1050.6,414.7 1052.3,415.8 1054.1,416.8 1055.8,417.8 1057.5,418.8 1059.3,419.8 1061.0,420.8 1062.8,421.8 1064.5,422.9 1066.2,423.9 1068.0,424.9 1069.8,425.8 1071.6,426.8 1073.4,427.8 1075.2,428.8 1077.0,429.7 1078.8,430.7 1080.6,431.7 1082.4,432.6 1084.2,433.6 1086.0,434.6 1087.4,435.3" fill="none" stroke="#00ff00" stroke-width="4" stroke-linejoin="round" stroke-linecap="round" shape-rendering="crispEdges"/>
<polyline points="1020.5,362.4 1019.7,364.2 1018.9,366.1 1018.1,367.9 1017.3,369.8 1015.9,371.2 1014.4,372.7 1013.0,374.1 1011.6,375.5 1009.9,376.6 1008.1,377.5 1006.3,378.4 1004.5,379.3 1003.0,380.6 1002.1,382.0" fill="none" stroke="#00ff00" stroke-width="4" stroke-linejoin="round" stroke-linecap="round" shape-rendering="crispEdges"/>
<polyline points="938.8,366.8 939.3,368.7 939.7,370.7 940.2,372.7 940.6,374.6 941.1,376.6 941.5,378.6 942.0,380.6 942.4,382.5 943.5,384.2 945.1,385.4 946.7,386.7 948.3,388.0 949.9,389.3 951.3,390.7 952.7,392.1 954.2,393.5 955.6,394.9 957.0,396.3 958.4,397.8 959.8,399.2 961.2,400.6 962.7,402.0 964.1,403.4 965.5,404.8 967.2,405.9 969.0,407.0 970.7,408.1 972.5,409.2 974.2,410.3 975.9,411.4 977.7,412.5 979.7,412.1 981.7,411.8 983.8,411.4 985.8,411.1 987.8,411.1 989.9,411.5 991.9,411.9 993.9,412.4 995.5,413.7 996.9,415.4 998.2,417.0 998.1,419.1 997.9,421.1 997.7,423.1 997.6,425.1 998.4,426.6 1000.2,427.5 1002.1,428.4 1003.9,429.4 1005.7,430.3 1007.3,431.5 1008.7,433.0 1010.1,434.5 1011.5,436.1 1012.9,437.6 1014.2,439.1 1014.2,439.1" fill="none" stroke="#00ff00" stroke-width="4" stroke-linejoin="round" stroke-linecap="round" shape-rendering="crispEdges"/>
<polyline points="932.7,371.3 932.2,373.4 931.7,375.4 931.2,377.4 930.7,379.4 930.6,381.5 930.9,383.5 931.2,385.5 931.5,387.6 931.8,389.6 932.4,391.4 934.0,392.7 935.6,394.0 937.2,395.3 938.8,396.6 939.6,398.2 939.6,400.3 939.6,402.3 939.2,404.2 938.4,406.1 937.6,407.9 936.8,409.8 936.0,411.7 935.2,413.5 934.4,415.3 933.6,417.2 932.8,419.0 932.0,420.8 931.2,422.7 930.4,424.5 929.6,426.3 928.9,428.2 928.8,430.2 928.6,432.3 928.5,434.3 928.3,436.3 928.2,438.3 928.2,438.3" fill="none" stroke="#00ff00" stroke-width="4" stroke-linejoin="round" stroke-linecap="round" shape-rendering="crispEdges"/>
<polyline points="919.8,391.1 921.6,392.2 923.4,393.3 925.2,394.4 927.0,395.4 928.8,396.5 930.5,397.7 932.3,398.8 934.3,399.0 936.3,398.9 938.3,398.8 940.4,398.7 940.4,398.7" fill="none" stroke="#00ff00" stroke-width="4" stroke-linejoin="round" stroke-linecap="round" shape-rendering="crispEdges"/>
<polyline points="919.8,392.7 918.9,394.4 918.0,396.2 917.1,398.0 916.2,399.8 915.3,401.6 914.4,403.4 913.5,405.2 912.6,407.0 911.5,408.6 910.2,410.2 908.8,411.7 907.4,413.2 906.1,414.7 904.7,416.3 903.4,417.8 902.0,419.3 900.7,420.8 900.0,421.6" fill="none" stroke="#00ff00" stroke-width="4" stroke-linejoin="round" stroke-linecap="round" shape-rendering="crispEdges"/>
<polyline points="976.9,412.5 975.5,413.9 974.0,415.4 972.6,416.8 971.1,418.3 969.7,419.7 969.2,421.6 969.0,423.6 968.8,425.7 968.7,427.7 968.9,429.6 970.3,431.3 971.7,432.9 971.6,434.5 970.1,435.9 968.5,437.2 967.0,438.6 965.5,440.0 965.5,440.0" fill="none" stroke="#00ff00" stroke-width="4" stroke-linejoin="round" stroke-linecap="round" shape-rendering="crispEdges"/>
<polyline points="999.0,414.0 1000.8,412.9 1002.6,411.8 1004.4,410.7 1006.2,409.7 1008.1,409.6 1010.2,409.9 1012.2,410.1 1014.2,410.4 1016.3,410.6 1018.3,410.9 1020.2,410.2 1022.1,409.3 1024.0,408.4 1025.6,407.2 1027.0,405.8 1028.5,404.3 1029.9,402.9 1030.2,402.6" fill="none" stroke="#00ff00" stroke-width="4" stroke-linejoin="round" stroke-linecap="round" shape-rendering="crispEdges"/>
<polyline points="900.0,427.7 901.9,428.4 903.7,429.1 905.6,429.8 907.5,430.5 909.4,431.2 911.2,431.9 913.1,432.7 915.0,433.5 916.8,434.3 918.6,435.2 920.5,436.0 922.3,436.8 924.2,437.7 926.0,438.5 927.4,439.1" fill="none" stroke="#00ff00" stroke-width="4" stroke-linejoin="round" stroke-linecap="round" shape-rendering="crispEdges"/>
<polyline points="1065.3,429.2 1063.7,430.6 1062.2,431.9 1060.7,433.3 1059.2,434.6 1057.6,435.9 1056.0,437.2 1054.4,438.4 1052.7,439.7 1052.3,440.0" fill="none" stroke="#00ff00" stroke-width="4" stroke-linejoin="round" stroke-linecap="round" shape-rendering="crispEdges"/>
<polyline points="816.0,260.0 815.9,262.1 815.7,264.2 815.6,266.2 815.4,268.3 815.3,270.4 814.4,272.0 812.7,273.2 811.0,274.4 809.3,275.6 807.6,276.8 806.0,278.0 804.4,279.3 802.8,280.6 801.2,281.9 800.0,282.8" fill="none" stroke="#00ff00" stroke-width="4" stroke-linejoin="round" stroke-linecap="round" shape-rendering="crispEdges"/>
<polyline points="815.2,274.5 817.3,275.0 819.3,275.5 821.3,276.0 821.0,278.0 820.6,279.9 820.2,281.9 819.9,283.9 821.0,285.3 822.6,286.5 824.3,287.7 825.9,288.9 827.4,290.3 828.9,291.6 830.5,292.9 832.0,294.3 833.5,295.6 835.0,296.9 836.6,298.3 838.1,299.6 838.8,301.5 839.6,303.4 840.4,305.3 841.1,307.2 842.1,309.0 843.1,310.8 844.1,312.5 845.1,314.3 846.0,316.1 847.0,317.8 848.0,319.6 849.2,321.1 851.2,321.6 853.1,322.2 853.9,323.5 853.6,325.5 852.9,327.3 851.1,328.3 849.3,329.3 847.5,330.3 845.8,331.3 844.0,332.4 842.3,333.5 840.8,334.9 839.4,336.4 837.9,337.9 836.4,339.3 835.0,340.8 833.5,342.3 832.6,344.1 831.7,345.9 830.8,347.7 829.9,349.6 829.7,350.0" fill="none" stroke="#00ff00" stroke-width="4" stroke-linejoin="round" stroke-linecap="round" shape-rendering="crispEdges"/>
<polyline points="844.2,260.0 845.5,261.6 846.8,263.2 848.1,264.8 849.5,266.4 850.8,267.9 852.0,269.6 852.9,271.4 853.8,273.2 854.7,275.0 855.6,276.8 856.5,278.6 857.4,280.4 858.5,282.1 859.9,283.7 861.2,285.3 862.5,286.9 863.8,288.5 865.2,290.1 866.9,291.2 868.7,292.1 870.6,293.0 872.5,293.9 874.3,294.9 876.2,295.8 878.2,296.3 879.2,296.6" fill="none" stroke="#00ff00" stroke-width="4" stroke-linejoin="round" stroke-linecap="round" shape-rendering="crispEdges"/>
<polyline points="857.9,260.0 859.3,261.5 860.8,262.9 862.3,264.4 863.7,265.8 865.2,267.3 866.7,268.8 868.2,270.1 869.8,271.3 871.5,272.6 873.1,273.8 874.2,275.4 875.0,277.3 875.7,279.2 876.4,281.1 877.1,283.0 877.8,284.9 878.2,286.9 878.6,288.8 879.0,290.8 879.4,292.8 879.8,294.8 880.5,296.7 881.5,298.5 882.5,300.4 883.5,302.2 884.9,303.6 886.4,304.9 888.0,306.2 889.5,307.5 891.0,308.9 892.5,310.2 894.1,311.5 895.3,313.1 896.4,314.8 897.6,316.5 898.7,318.2 899.9,319.9 901.0,321.6 902.2,323.4 903.3,325.1 904.7,326.6 906.1,328.0 907.5,329.4 909.0,330.9 910.4,332.3 911.8,333.7 913.3,335.2 914.7,336.6 916.1,338.1 917.5,339.5 918.9,341.0 920.2,342.5 921.6,343.9 923.0,345.4 924.4,346.9 925.7,348.4 926.4,349.1" fill="none" stroke="#00ff00" stroke-width="4" stroke-linejoin="round" stroke-linecap="round" shape-rendering="crispEdges"/>
<polyline points="874.6,272.9 876.7,272.4 878.7,271.9 880.7,271.4 882.8,270.9 884.6,270.1 886.3,268.9 888.0,267.7 889.7,266.5 891.4,265.3 893.2,266.2 895.0,267.1 896.8,268.0 898.6,268.9 900.2,268.2 901.8,267.0 903.4,265.7 904.9,264.5 906.5,263.2 908.1,262.0 909.7,260.8 909.7,260.8" fill="none" stroke="#00ff00" stroke-width="4" stroke-linejoin="round" stroke-linecap="round" shape-rendering="crispEdges"/>
<polyline points="865.5,289.7 864.1,291.4 862.8,293.1 862.0,295.0 861.4,297.1 860.8,299.1 860.2,301.1 859.8,303.2 859.5,305.2 859.2,307.2 858.8,309.3 858.0,311.0 856.6,312.6 855.3,314.1 854.0,315.6 852.6,317.1 851.0,318.6 849.5,320.2 849.5,320.2" fill="none" stroke="#00ff00" stroke-width="4" stroke-linejoin="round" stroke-linecap="round" shape-rendering="crispEdges"/>
<polyline points="905.1,299.6 907.0,298.8 908.9,298.1 910.8,297.3 912.7,296.6 914.6,295.8 916.6,295.0 918.5,294.2 920.4,293.4 922.4,292.7 924.4,292.6 926.4,292.5 928.5,292.3 930.5,292.2 932.5,292.1 934.0,292.0" fill="none" stroke="#00ff00" stroke-width="4" stroke-linejoin="round" stroke-linecap="round" shape-rendering="crispEdges"/>
<polyline points="932.5,260.0 931.4,261.7 930.2,263.5 929.0,265.2 927.9,267.0 926.7,268.7 926.6,270.7 926.7,272.7 926.9,274.7 927.1,276.8 927.4,278.7 928.5,280.5 929.5,282.3 930.5,284.1 931.5,286.0 932.5,287.8 933.5,289.6 934.2,291.5 934.6,293.5 934.9,295.5 935.2,297.6 935.6,299.6 934.9,301.5 934.3,303.5 933.6,305.4 933.0,307.3 932.8,309.2 933.7,311.0 934.7,312.7 935.7,314.5 936.7,316.3 937.7,318.0 938.7,319.8 939.6,321.6 940.9,323.2 942.3,324.6 943.7,326.0 945.2,327.5 946.2,328.5" fill="none" stroke="#00ff00" stroke-width="4" stroke-linejoin="round" stroke-linecap="round" shape-rendering="crispEdges"/>
<polyline points="946.2,328.5 944.6,329.9 943.1,331.2 941.5,332.5 939.9,333.8 938.3,335.2 936.6,336.2 934.6,336.2 932.5,336.2 930.5,336.2 928.5,336.2 926.4,336.2 924.4,336.2 922.4,336.2 920.3,336.2 918.3,336.2 916.3,336.2 914.2,336.2 912.3,336.5 910.7,337.7 909.1,338.9 907.4,340.1 905.8,341.3 904.0,342.5 902.3,343.6 900.5,344.8 898.8,346.0 897.0,347.0 895.0,347.6 893.0,348.3 891.1,348.9 889.1,349.5 887.6,350.0" fill="none" stroke="#00ff00" stroke-width="4" stroke-linejoin="round" stroke-linecap="round" shape-rendering="crispEdges"/>
<polyline points="949.3,327.0 949.8,325.0 950.3,323.0 950.8,320.9 952.0,319.2 953.1,317.4 954.3,315.7 955.4,314.0 956.6,312.2 957.8,310.6 957.8,310.6" fill="none" stroke="#00ff00" stroke-width="4" stroke-linejoin="round" stroke-linecap="round" shape-rendering="crispEdges"/>
<polyline points="950.8,260.0 952.8,260.4 954.9,260.9 956.9,261.3 958.9,261.7 961.0,262.2 963.0,262.4 965.0,262.5 967.0,262.7 969.1,262.8 971.1,262.9 973.1,263.1 975.2,263.2 977.2,263.3 979.2,263.5 981.3,263.6 983.3,263.7 984.8,264.7 985.8,266.5 986.5,267.8" fill="none" stroke="#00ff00" stroke-width="4" stroke-linejoin="round" stroke-linecap="round" shape-rendering="crispEdges"/>
<polyline points="800.0,332.4 802.0,333.0 804.1,333.7 805.6,334.9 807.0,336.4 808.5,337.8 809.9,339.2 811.3,340.6 812.7,342.0 814.1,343.4 815.6,344.9 817.0,346.3 818.4,347.7 819.8,349.1 819.8,349.1" fill="none" stroke="#00ff00" stroke-width="4" stroke-linejoin="round" stroke-linecap="round" shape-rendering="crispEdges"/>
<polyline points="991.9,260.0 993.8,260.7 995.7,261.4 997.6,262.2 999.5,262.9 1000.0,263.0" fill="none" stroke="#00ff00" stroke-width="4" stroke-linejoin="round" stroke-linecap="round" shape-rendering="crispEdges"/>
<polyline points="890.0,190.3 888.9,191.6 887.0,192.2 885.0,192.7 883.1,193.3 881.1,193.8 879.2,194.4 877.2,193.9 875.1,193.4 873.1,192.8 871.4,191.8 869.6,190.7 867.9,189.6 866.0,189.1 864.0,189.1 861.9,189.2 859.9,189.3 857.9,189.4 855.9,189.4 853.8,189.5 851.8,189.6 849.8,189.7 847.7,189.7 845.7,189.8 843.7,190.5 841.6,191.2 839.9,192.2 838.3,193.5 836.7,194.7 835.0,195.9 833.3,196.9 831.6,197.9 829.8,198.9 828.1,200.0 826.3,201.0 825.9,201.2" fill="none" stroke="#00ff00" stroke-width="4" stroke-linejoin="round" stroke-linecap="round" shape-rendering="crispEdges"/>
<polyline points="813.9,189.2 815.1,190.9 816.3,192.5 817.5,194.1 818.6,195.8 819.8,197.4 821.1,199.0 822.4,200.6 823.7,202.2 824.9,203.8 826.1,205.5 827.2,207.3 828.2,209.1 829.2,210.9 830.2,212.7 831.2,214.5 832.2,216.3 833.1,218.2 833.8,220.1 834.5,222.1 835.2,224.0 835.9,225.9 836.6,227.9 837.5,229.7 838.4,231.5 839.3,233.4 840.2,235.2 841.1,237.0 842.1,238.9 843.0,240.8 843.9,242.6 844.2,244.7 844.2,246.7 844.2,248.8 844.2,250.8 844.2,252.8 844.2,254.9 844.2,256.9 844.2,259.0 844.2,260.0" fill="none" stroke="#00ff00" stroke-width="4" stroke-linejoin="round" stroke-linecap="round" shape-rendering="crispEdges"/>
<polyline points="800.0,194.4 801.5,195.8 802.9,197.3 804.4,198.7 805.8,200.2 807.3,201.6 808.6,203.2 809.9,204.8 811.1,206.4 812.4,208.0 813.7,209.6 815.0,211.2 816.3,212.8 817.6,214.4 818.8,216.0 820.3,217.4 822.1,218.3 824.0,219.2 825.8,220.0 827.7,220.9 829.5,221.8 831.4,222.7 832.7,223.3" fill="none" stroke="#00ff00" stroke-width="4" stroke-linejoin="round" stroke-linecap="round" shape-rendering="crispEdges"/>
<polyline points="844.2,240.1 846.1,239.3 848.0,238.5 849.9,237.7 851.9,236.9 853.7,236.0 855.3,234.7 856.9,233.5 858.4,232.2 860.0,231.0 861.6,229.7 863.2,228.5 864.6,227.0 865.8,225.1 867.0,223.3 869.1,222.7 871.1,222.1 873.1,221.5 874.7,220.5 875.1,218.6 875.4,216.6 875.8,214.6 876.2,212.7 876.9,210.7 877.7,208.8 878.4,206.9 879.2,205.0 880.6,203.6 882.1,202.2 883.5,200.8 885.1,199.7 887.2,199.7 889.3,199.7 891.4,199.7 892.2,201.5 893.0,203.4 893.8,205.2 894.5,207.1 894.9,209.1 895.3,211.1 895.7,213.2 896.1,215.2 896.4,217.2 896.9,219.2 897.8,221.0 898.7,222.8 899.6,224.6 900.5,226.4 902.3,227.4 904.0,228.5 905.8,229.6 907.6,230.6 909.4,231.6 911.3,232.5 913.1,233.4 915.0,234.3 916.8,235.3 918.5,236.5 920.1,237.8 921.7,239.1 923.2,240.5 924.8,241.8 926.4,243.1 928.4,243.6 930.3,244.0 932.3,244.4 934.3,244.8 936.2,245.2 938.2,245.5 940.2,245.9 942.1,246.5 943.6,247.8 945.2,249.1 946.8,250.5 948.4,251.8 950.0,253.1 951.4,254.7 952.6,256.5 953.8,258.3 953.8,258.3" fill="none" stroke="#00ff00" stroke-width="4" stroke-linejoin="round" stroke-linecap="round" shape-rendering="crispEdges"/>
<polyline points="934.0,245.4 934.0,247.4 934.0,249.4 934.0,251.5 934.0,253.5 934.0,255.5 934.0,257.5 934.0,259.5 934.0,260.0" fill="none" stroke="#00ff00" stroke-width="4" stroke-linejoin="round" stroke-linecap="round" shape-rendering="crispEdges"/>
<polyline points="932.5,243.9 933.9,242.4 935.3,240.8 936.7,239.3 938.1,237.8 939.4,236.3 940.8,234.7 942.2,233.2 943.5,231.7 944.9,230.2 946.2,228.6 948.0,227.5 949.7,226.4 951.4,225.3 953.1,224.2 954.9,223.1 956.6,221.9 958.3,220.8 959.2,220.3" fill="none" stroke="#00ff00" stroke-width="4" stroke-linejoin="round" stroke-linecap="round" shape-rendering="crispEdges"/>
<polyline points="811.4,246.9 813.4,246.4 815.3,245.8 817.3,245.3 819.2,245.0 821.2,244.8 823.2,244.5 825.2,244.2 827.2,243.9 829.2,243.6 831.1,243.3 833.1,243.1 835.1,242.8 837.1,242.5 839.1,242.1 841.1,241.6 843.2,241.1 844.2,240.8" fill="none" stroke="#00ff00" stroke-width="4" stroke-linejoin="round" stroke-linecap="round" shape-rendering="crispEdges"/>
<polyline points="812.2,247.7 812.9,249.7 813.5,251.7 814.0,253.8 814.4,255.9 814.8,258.0 815.2,260.0 815.2,260.0" fill="none" stroke="#00ff00" stroke-width="4" stroke-linejoin="round" stroke-linecap="round" shape-rendering="crispEdges"/>
<polyline points="845.7,241.6 847.0,243.2 848.3,244.8 849.5,246.4 850.8,248.0 852.1,249.6 853.3,251.2 854.6,252.8 855.8,254.4 857.1,256.0 858.3,257.6 859.5,259.2 860.2,260.0" fill="none" stroke="#00ff00" stroke-width="4" stroke-linejoin="round" stroke-linecap="round" shape-rendering="crispEdges"/>
<polyline points="906.6,232.5 906.1,234.5 905.6,236.5 905.1,238.5 904.8,240.6 904.5,242.6 904.2,244.6 903.9,246.7 903.7,248.7 904.4,250.5 905.4,252.2 906.5,253.9 907.6,255.7 908.6,257.4 909.7,259.1 909.7,259.1" fill="none" stroke="#00ff00" stroke-width="4" stroke-linejoin="round" stroke-linecap="round" shape-rendering="crispEdges"/>
<polyline points="939.4,187.3 941.1,188.5 942.7,189.7 944.3,190.9 946.0,192.1 947.6,193.3 949.2,194.5 950.9,195.7 952.5,196.9 954.1,198.0 955.8,199.2 957.5,200.3 959.2,201.4 960.8,202.5 962.5,203.6 964.2,204.7 965.9,205.8 967.6,206.9 969.2,208.0 970.9,209.1 972.6,210.2 974.3,211.4 976.0,212.5 977.6,213.6 979.3,214.7 981.2,215.5 983.0,216.2 984.9,216.9 986.8,217.6 988.7,218.3 990.6,219.0 992.5,219.7 994.3,220.4 996.2,221.1 998.1,221.8 1000.0,222.6 1000.0,222.6" fill="none" stroke="#00ff00" stroke-width="4" stroke-linejoin="round" stroke-linecap="round" shape-rendering="crispEdges"/>
<polyline points="961.2,188.7 960.1,190.4 959.1,192.2 958.0,193.9 957.0,195.6 955.9,197.3 955.4,198.2" fill="none" stroke="#00ff00" stroke-width="4" stroke-linejoin="round" stroke-linecap="round" shape-rendering="crispEdges"/>
<polyline points="937.9,196.7 939.0,198.3 940.1,200.0 941.3,201.6 942.4,203.3 943.6,204.9 944.7,206.6 946.3,207.8 947.8,209.1 949.4,210.3 951.0,211.6 952.5,212.8 954.1,214.1 955.6,215.3 957.2,216.6 958.8,217.8 960.3,219.0 962.0,220.2 963.6,221.4 965.3,222.6 966.9,223.7 968.6,224.9 970.2,226.1 971.7,227.3 973.3,228.6 974.8,229.9 976.3,231.3 977.8,232.6 979.4,233.9 980.9,235.2 981.8,237.0 982.4,238.9 983.1,240.9 983.7,242.8 984.4,244.8 985.0,246.8 985.7,248.7 986.7,250.5 987.9,252.1 989.1,253.8 990.2,255.4 991.4,257.1 992.6,258.8 993.5,260.0" fill="none" stroke="#00ff00" stroke-width="4" stroke-linejoin="round" stroke-linecap="round" shape-rendering="crispEdges"/>
<polyline points="989.8,190.1 988.9,191.8 988.9,193.9 988.9,195.9 988.9,197.9 988.9,200.0 988.9,202.0 988.5,203.9 987.2,205.5 985.9,207.1 984.6,208.7 983.3,210.3 981.9,211.9 981.3,212.7" fill="none" stroke="#00ff00" stroke-width="4" stroke-linejoin="round" stroke-linecap="round" shape-rendering="crispEdges"/>
<polyline points="724.3,185.2 723.8,187.3 723.3,189.3 722.8,191.3 722.4,192.8" fill="none" stroke="#00ff00" stroke-width="4" stroke-linejoin="round" stroke-linecap="round" shape-rendering="crispEdges"/>
<polyline points="746.4,219.5 747.6,217.9 748.9,216.2 750.1,214.5 751.3,212.9 752.5,211.2 753.7,209.6 755.0,207.9 756.2,206.3 757.1,204.5 757.2,202.5 757.3,200.5 757.3,198.4 757.4,196.4 757.5,194.4 757.6,192.3 757.7,190.3 757.7,188.3 757.8,186.2 757.9,185.2" fill="none" stroke="#00ff00" stroke-width="4" stroke-linejoin="round" stroke-linecap="round" shape-rendering="crispEdges"/>
<polyline points="757.9,205.0 758.2,207.1 758.6,209.1 759.0,211.1 759.4,213.2 759.8,215.2 760.1,217.2 760.9,219.0 761.8,220.9 762.6,222.7 763.4,224.5 764.2,226.4 765.0,228.2 765.8,230.0 766.7,231.8 767.6,233.6 768.5,235.4 769.4,237.2 770.3,239.1 771.2,240.9 772.1,242.7 773.4,244.2 774.9,245.7 776.3,247.1 777.8,248.6 779.2,250.0 780.4,251.7 781.3,253.5 782.2,255.4 783.1,257.2 784.1,259.1 784.5,260.0" fill="none" stroke="#00ff00" stroke-width="4" stroke-linejoin="round" stroke-linecap="round" shape-rendering="crispEdges"/>
<polyline points="650.1,188.0 651.4,189.4 652.7,190.9 654.1,192.5 655.4,194.0 656.7,195.5 658.0,197.0 659.3,198.6 660.7,200.0 662.2,201.5 663.6,203.0 665.1,204.4 666.5,205.9 668.0,207.3 669.4,208.9 670.6,210.5 671.8,212.1 673.0,213.8 673.3,214.2" fill="none" stroke="#00ff00" stroke-width="4" stroke-linejoin="round" stroke-linecap="round" shape-rendering="crispEdges"/>
<polyline points="634.9,189.2 636.5,190.5 638.0,191.8 639.6,193.1 641.2,194.3 642.8,195.6 644.3,196.9 645.9,198.2 647.5,199.4 649.1,200.6 650.7,201.9 652.3,203.1 653.9,204.3 655.5,205.6 657.1,206.8 658.7,208.0 660.3,209.3 661.9,210.5 663.5,211.6 665.3,212.7 667.1,213.7 668.9,214.7 670.6,215.7 672.4,216.7 674.0,218.0 675.3,219.5 676.6,221.0 678.0,222.6 679.3,224.1 680.6,225.6 682.0,227.1 683.3,228.6 684.4,230.4 685.1,232.3 685.9,234.2 686.6,236.1 687.1,238.0 687.1,240.0 687.2,242.0 687.3,244.0 687.3,246.0 687.4,248.0 687.5,250.0 687.5,252.0 687.6,254.0 687.7,256.0 687.7,258.0 687.8,260.0 687.8,260.0" fill="none" stroke="#00ff00" stroke-width="4" stroke-linejoin="round" stroke-linecap="round" shape-rendering="crispEdges"/>
<polyline points="687.0,237.0 689.1,237.2 691.1,237.4 693.1,237.5 695.1,237.7 697.1,238.3 698.9,239.3 700.7,240.3 702.5,241.3 704.3,242.4 706.1,243.4 707.9,244.4 709.4,245.7 710.9,247.2 712.4,248.7 713.8,250.1 715.3,251.6 716.8,253.0 718.2,254.5 719.6,256.0 721.1,257.5 722.5,258.9 723.6,260.0" fill="none" stroke="#00ff00" stroke-width="4" stroke-linejoin="round" stroke-linecap="round" shape-rendering="crispEdges"/>
<polyline points="784.2,185.4 786.1,185.9 788.1,186.5 789.8,187.5 791.2,188.9 792.7,190.4 794.1,191.8 795.6,193.2 797.0,194.7 797.4,195.1" fill="none" stroke="#00ff00" stroke-width="4" stroke-linejoin="round" stroke-linecap="round" shape-rendering="crispEdges"/>
<polyline points="688.7,262.2 689.8,264.0 690.8,265.7 691.8,267.5 692.8,269.3 693.8,271.1 694.8,272.8 695.9,274.6 696.9,276.4 697.9,278.2 698.9,280.0 699.9,281.7 700.9,283.5 702.3,284.9 703.8,286.3 705.2,287.8 706.6,289.2 708.0,290.6 709.4,292.0 710.8,293.4 712.3,294.8 713.7,296.3 715.1,297.7 716.6,299.0 718.2,300.3 719.8,301.5 721.4,302.7 723.1,303.9 724.7,305.1 726.3,306.4 727.9,307.6 729.6,308.8 731.2,310.0 732.8,311.2 734.4,312.5 736.1,313.7 737.7,314.9 739.3,316.1 740.9,317.3 742.6,318.5 744.2,319.8 745.8,321.0 747.5,322.1 749.2,323.2 751.0,324.2 752.7,325.2 754.5,326.3 756.2,327.3 757.9,328.4 759.7,329.4 761.4,330.5 763.4,331.1 765.4,331.6 767.4,332.1 769.5,332.6 771.2,333.5 772.0,335.4 772.8,337.2 773.6,339.1 774.0,340.0" fill="none" stroke="#00ff00" stroke-width="4" stroke-linejoin="round" stroke-linecap="round" shape-rendering="crispEdges"/>
<polyline points="722.6,262.6 723.9,264.2 725.1,265.8 726.4,267.4 727.7,269.0 729.0,270.6 730.2,272.2 731.4,273.9 732.6,275.5 733.8,277.1 735.0,278.7 736.3,280.4 737.5,282.0 738.7,283.6 739.9,285.2 741.1,286.9 742.4,288.5 743.6,290.1 744.8,291.7 746.0,293.4 747.3,294.9 748.7,296.5 750.1,298.0 751.4,299.5 752.8,301.0 754.2,302.6 755.5,304.1 756.9,305.6 758.3,307.1 759.6,308.6 760.8,310.3 761.7,312.1 762.6,313.9 763.5,315.7 764.4,317.4 765.5,319.2 766.6,320.9 767.7,322.6 768.8,324.3 769.9,326.0 771.0,327.7 771.8,329.6 772.5,331.5 773.3,333.4 774.0,335.3 775.2,337.0 776.3,338.7 777.1,340.0" fill="none" stroke="#00ff00" stroke-width="4" stroke-linejoin="round" stroke-linecap="round" shape-rendering="crispEdges"/>
<polyline points="745.1,274.4 743.8,276.0 742.5,277.6 741.2,279.2 739.9,280.8 738.6,282.4 738.2,282.7" fill="none" stroke="#00ff00" stroke-width="4" stroke-linejoin="round" stroke-linecap="round" shape-rendering="crispEdges"/>
<polyline points="785.9,261.5 786.8,263.4 787.8,265.2 787.3,267.3 786.9,269.3 786.5,271.3 786.5,273.3 787.7,275.0 788.8,276.8 790.0,278.5 791.2,280.2 792.3,282.0 793.0,284.0 793.7,286.0 793.8,286.6" fill="none" stroke="#00ff00" stroke-width="4" stroke-linejoin="round" stroke-linecap="round" shape-rendering="crispEdges"/>
<polyline points="798.1,284.2 796.5,285.3 794.9,286.6 793.2,287.8 791.6,289.0 790.0,290.2 788.4,291.4 786.7,292.7 785.1,293.9 783.4,294.9 781.6,296.0 779.8,297.0 778.0,298.0 776.3,299.0 774.5,300.0 772.8,301.1 771.1,302.2 769.4,303.4 767.7,304.5 766.0,305.6 764.3,306.8 762.6,307.9 762.6,307.9" fill="none" stroke="#00ff00" stroke-width="4" stroke-linejoin="round" stroke-linecap="round" shape-rendering="crispEdges"/>
<polyline points="767.2,313.2 769.3,313.4 771.4,313.7 773.5,313.9 775.1,315.1 776.6,316.5 778.0,318.0 779.5,319.4 780.9,320.9 782.3,322.4 783.5,324.0 784.7,325.7 785.9,327.3 787.7,328.2 789.6,328.8 791.5,329.4 793.4,330.1 795.4,330.7 797.2,331.6 797.7,331.9" fill="none" stroke="#00ff00" stroke-width="4" stroke-linejoin="round" stroke-linecap="round" shape-rendering="crispEdges"/>
<polyline points="776.8,342.7 778.2,344.1 779.5,345.6 780.7,347.3 781.8,348.9 783.0,350.6 784.2,352.2 785.4,353.8 786.5,355.5 788.2,356.8 790.0,358.0 791.8,359.3 793.2,360.7 794.6,362.2 796.1,363.6 797.5,365.0 798.9,366.5 800.4,367.9 801.8,369.3 803.2,370.8 804.9,371.8 806.7,372.7 808.5,373.6 810.3,374.5 812.2,375.4 814.0,376.3 815.8,377.2 817.6,378.0 819.4,378.8 821.2,379.7 823.1,380.5 824.9,381.3 826.7,382.1 828.6,382.9 830.4,383.8 832.1,384.8 833.9,385.7 835.6,386.7 837.4,387.6 839.2,388.6 840.9,389.6 842.7,390.5 844.5,391.5 846.2,392.5 847.8,393.7 849.4,395.0 850.9,396.2 852.5,397.5 854.0,398.7 855.6,400.0 857.2,401.2 858.7,402.5 860.3,403.7 861.9,404.9 863.7,405.9 865.4,406.8 867.2,407.8 869.0,408.8 870.7,409.8 872.5,410.8 874.3,411.8 876.0,412.8 877.8,413.9 879.5,415.0 881.3,416.1 883.0,417.2 884.7,418.4 886.5,419.5 887.4,420.0" fill="none" stroke="#00ff00" stroke-width="4" stroke-linejoin="round" stroke-linecap="round" shape-rendering="crispEdges"/>
<polyline points="819.3,351.2 819.9,353.2 820.6,355.1 821.2,357.0 821.9,358.9 823.1,360.6 824.3,362.2 825.5,363.8 826.8,365.4 828.2,366.8 829.7,368.3 831.1,369.7 832.6,371.2 834.0,372.7 835.6,374.0 837.2,375.3 838.8,376.6 840.4,377.9 842.0,379.2 843.9,379.3 845.9,379.0 847.9,378.7 849.8,378.4 851.8,378.1 853.8,378.7 853.8,378.7" fill="none" stroke="#00ff00" stroke-width="4" stroke-linejoin="round" stroke-linecap="round" shape-rendering="crispEdges"/>
<polyline points="828.0,351.7 827.0,353.5 826.6,355.4 827.0,357.4 827.4,359.4 827.8,361.5 829.1,363.1 830.2,364.3" fill="none" stroke="#00ff00" stroke-width="4" stroke-linejoin="round" stroke-linecap="round" shape-rendering="crispEdges"/>
<polyline points="886.7,352.0 885.3,353.4 883.8,354.9 882.4,356.3 880.9,357.7 879.5,359.2 878.1,360.6 876.6,362.1 875.2,363.5 873.8,365.0 872.5,366.6 871.2,368.1 869.8,369.6 868.5,371.1 867.2,372.7 865.8,374.2 864.5,375.7 862.9,376.9 861.3,378.1 859.6,379.4 858.0,380.5 856.2,381.6 854.5,382.7 852.8,383.8 851.0,384.9 849.3,386.0 847.5,387.1 846.2,387.9" fill="none" stroke="#00ff00" stroke-width="4" stroke-linejoin="round" stroke-linecap="round" shape-rendering="crispEdges"/>
<polyline points="873.6,364.3 875.2,365.6 876.7,366.9 878.2,368.3 879.7,369.6 881.7,370.2 883.6,370.9 885.5,371.5 887.4,372.2 889.3,373.0 891.0,374.2 892.6,375.5 894.3,376.7 895.9,377.9 897.6,379.2 898.0,379.5" fill="none" stroke="#00ff00" stroke-width="4" stroke-linejoin="round" stroke-linecap="round" shape-rendering="crispEdges"/>
<polyline points="823.4,390.2 824.8,391.7 826.2,393.2 827.6,394.7 829.0,396.3 830.4,397.8 831.8,399.3 833.3,400.7 834.8,402.0 836.3,403.3 837.9,404.6 839.4,405.9 840.9,407.2 842.4,408.6 843.8,410.0 845.1,411.5 846.4,413.0 847.8,414.5 849.1,416.1 850.4,417.6 851.7,419.1 852.3,419.9" fill="none" stroke="#00ff00" stroke-width="4" stroke-linejoin="round" stroke-linecap="round" shape-rendering="crispEdges"/>
<polyline points="850.8,406.2 851.7,408.0 852.6,409.7 853.5,411.5 854.4,413.3 855.0,415.3 855.5,417.4 856.0,419.5 856.1,420.0" fill="none" stroke="#00ff00" stroke-width="4" stroke-linejoin="round" stroke-linecap="round" shape-rendering="crispEdges"/>
<polyline points="850.5,420.0 851.9,421.4 853.3,422.8 854.7,424.3 856.2,425.7 857.6,427.1 859.0,428.5 860.4,430.0 861.9,431.3 863.4,432.7 864.9,434.0 866.5,435.3 868.0,436.7 869.5,438.0 871.0,439.3 872.6,440.7 874.0,442.0 875.5,443.5 876.9,444.9 878.3,446.3 879.8,447.8 881.2,449.2 882.6,450.6 884.1,452.1 885.5,453.5 887.2,454.7 888.9,455.8 890.6,456.9 892.4,458.1 894.1,459.2 895.8,460.4 897.5,461.5 899.2,462.7 900.7,464.0 902.3,465.3 903.8,466.6 905.3,468.0 906.8,469.3 908.3,470.6 909.9,472.0 911.4,473.3 912.9,474.7 914.4,476.1 916.0,477.4 917.5,478.8 919.0,480.2 920.5,481.5 922.1,482.9 923.6,484.3 925.1,485.7 926.6,487.0 927.9,488.5 929.2,490.1 930.5,491.6 931.8,493.1 933.2,494.6 934.5,496.2 935.8,497.7 937.1,499.2 938.4,500.8 939.8,502.3 941.1,503.9 942.4,505.4 943.8,506.9 945.1,508.5 946.4,510.0 946.4,510.0" fill="none" stroke="#00ff00" stroke-width="4" stroke-linejoin="round" stroke-linecap="round" shape-rendering="crispEdges"/>
<polyline points="887.6,422.5 889.4,423.5 891.3,424.4 893.1,425.3 895.0,426.1 897.0,426.9 897.9,427.3" fill="none" stroke="#00ff00" stroke-width="4" stroke-linejoin="round" stroke-linecap="round" shape-rendering="crispEdges"/>
<polyline points="928.9,440.4 930.5,441.7 932.1,442.9 933.7,444.1 935.3,445.4 936.8,446.6 938.4,447.9 940.1,449.1 941.8,450.3 943.5,451.4 945.2,452.6 946.7,453.9 947.9,455.6 949.1,457.2 950.2,458.8 951.4,460.5 952.6,462.1 953.8,463.8 955.0,465.4 956.2,467.0 957.5,468.6 958.7,470.2 960.0,471.9 961.2,473.5 962.4,475.1 963.7,476.7 964.9,478.3 966.2,479.9 967.4,481.6 968.7,483.2 970.1,484.6 971.7,485.9 973.3,487.2 974.9,488.5 976.5,489.7 978.1,491.0 979.7,492.2 981.4,493.4 983.0,494.6 984.6,495.9 986.2,497.1 987.9,498.3 989.3,499.7 990.3,501.5 991.4,503.3 992.4,505.1 993.4,506.9 994.4,508.7 995.2,510.0" fill="none" stroke="#00ff00" stroke-width="4" stroke-linejoin="round" stroke-linecap="round" shape-rendering="crispEdges"/>
<polyline points="887.0,421.5 889.1,421.7 891.1,421.9 893.1,422.0 895.1,422.2 897.2,422.0 897.7,421.8" fill="none" stroke="#00ff00" stroke-width="4" stroke-linejoin="round" stroke-linecap="round" shape-rendering="crispEdges"/>
<polyline points="965.1,442.5 963.6,443.9 962.2,445.4 960.7,446.8 959.3,448.3 957.8,449.7 956.2,450.9 954.3,451.9 952.4,452.8 951.0,453.5" fill="none" stroke="#00ff00" stroke-width="4" stroke-linejoin="round" stroke-linecap="round" shape-rendering="crispEdges"/>
<polyline points="973.8,487.8 975.9,487.3 977.9,486.8 979.9,486.3 981.6,485.0 983.3,483.8 984.9,482.5 986.6,481.3 988.2,480.0 989.8,478.7 991.3,477.2 992.7,475.8 994.2,474.3 995.7,472.8 997.1,471.4 998.3,469.8 998.4,467.7 998.5,465.7 998.7,463.7 998.8,461.6 999.0,459.6 1000.0,457.9 1001.0,456.1 1002.0,454.4 1003.0,452.6 1004.1,450.9 1005.5,449.4 1007.0,448.0 1008.5,446.6 1010.0,445.2 1011.5,443.8 1013.1,442.4 1013.5,442.1" fill="none" stroke="#00ff00" stroke-width="4" stroke-linejoin="round" stroke-linecap="round" shape-rendering="crispEdges"/>
<polyline points="1015.7,440.9 1017.1,442.5 1018.4,444.0 1019.7,445.5 1020.0,445.9" fill="none" stroke="#00ff00" stroke-width="4" stroke-linejoin="round" stroke-linecap="round" shape-rendering="crispEdges"/>
<polyline points="1020.0,497.7 1018.5,499.0 1016.9,500.3 1015.4,501.6 1013.9,502.9 1012.3,504.1 1010.8,505.4 1009.3,506.7 1007.7,508.0 1007.4,508.3" fill="none" stroke="#00ff00" stroke-width="4" stroke-linejoin="round" stroke-linecap="round" shape-rendering="crispEdges"/>
<polyline points="946.8,512.4 948.2,513.9 949.5,515.4 950.9,516.8 952.3,518.3 953.7,519.8 955.1,521.3 956.4,522.8 957.8,524.3 959.2,525.8 960.6,527.3 960.9,527.7" fill="none" stroke="#00ff00" stroke-width="4" stroke-linejoin="round" stroke-linecap="round" shape-rendering="crispEdges"/>
<polyline points="996.9,510.9 998.2,512.5 999.6,514.0 1000.9,515.5 1002.2,517.0 1003.6,518.5 1005.0,520.0 1006.4,521.5 1007.8,523.0 1009.2,524.5 1010.5,525.9 1011.9,527.4 1013.3,528.9 1014.7,530.4 1015.8,531.5" fill="none" stroke="#00ff00" stroke-width="4" stroke-linejoin="round" stroke-linecap="round" shape-rendering="crispEdges"/>
<polyline points="1029.5,450.0 1030.1,451.9 1030.8,453.8 1031.4,455.8 1032.0,457.7 1032.5,459.6 1032.2,461.7 1031.9,463.7 1031.6,465.7 1031.3,467.8 1031.1,469.8 1030.8,471.8 1030.5,473.9 1030.2,475.9 1029.5,477.8 1028.9,479.8 1028.2,481.7 1027.5,483.6 1026.8,485.6 1026.0,487.5 1025.2,489.3 1024.4,491.1 1023.6,493.0 1022.8,494.8 1022.0,496.6 1022.0,496.6" fill="none" stroke="#00ff00" stroke-width="4" stroke-linejoin="round" stroke-linecap="round" shape-rendering="crispEdges"/>
<polyline points="1029.5,450.0 1031.5,450.0 1033.5,450.0 1035.6,450.0 1037.6,450.0 1039.6,450.0 1041.7,450.0 1043.7,450.0 1045.7,450.0 1046.2,450.0" fill="none" stroke="#00ff00" stroke-width="4" stroke-linejoin="round" stroke-linecap="round" shape-rendering="crispEdges"/>
<polyline points="1022.2,446.8 1023.9,448.0 1025.9,448.5 1027.5,448.8" fill="none" stroke="#00ff00" stroke-width="4" stroke-linejoin="round" stroke-linecap="round" shape-rendering="crispEdges"/>
<polyline points="1046.7,448.0 1048.0,446.4 1049.4,444.9 1050.7,443.4 1051.6,442.2" fill="none" stroke="#00ff00" stroke-width="4" stroke-linejoin="round" stroke-linecap="round" shape-rendering="crispEdges"/>
<polyline points="524.4,119.2 524.0,121.2 523.7,123.2 523.3,125.2 523.0,127.2 522.6,129.2 522.3,131.1 521.9,133.1 521.6,135.1 521.2,137.1 520.9,139.1 520.5,141.1 520.2,143.0 519.8,145.0 519.5,147.0 519.1,149.0 518.8,151.0 518.4,153.0 518.1,154.9 517.7,156.9 517.4,158.9 517.0,160.9 516.7,162.9 516.3,164.9 516.2,165.9" fill="none" stroke="#0000ff" stroke-width="4" stroke-linejoin="round" stroke-linecap="round" shape-rendering="crispEdges"/>
<polyline points="498.8,141.7 500.8,141.8 502.8,141.9 504.8,142.0 506.8,142.1 508.8,142.2 510.8,142.4 512.8,142.5 514.8,142.6 516.8,142.7 518.8,142.8 520.8,142.9 522.8,143.0 524.8,143.1 526.8,143.2 528.8,143.3 530.8,143.4 532.8,143.5 534.8,143.6 536.8,143.7 538.8,143.8 540.8,143.9 540.8,143.9" fill="none" stroke="#0000ff" stroke-width="4" stroke-linejoin="round" stroke-linecap="round" shape-rendering="crispEdges"/>
<polyline points="546.3,145.7 548.2,146.4 550.1,147.1 552.0,147.8 553.9,148.5 555.8,149.1 557.7,149.8 559.6,150.5 561.5,151.2 563.4,151.8 565.3,152.5 567.2,153.2 569.1,153.9 571.0,154.5 572.9,155.2 574.8,155.9 576.7,156.6 578.6,157.3 580.5,157.9 582.3,158.6 584.2,159.3 586.1,159.9 588.1,160.6 590.0,161.2 591.9,161.9 593.8,162.5 595.7,163.1 597.6,163.8 599.5,164.4 601.4,165.1 603.3,165.7 605.2,166.4 607.1,167.0 609.0,167.6 610.9,168.3 612.8,168.9 614.7,169.6 616.7,170.2 618.6,170.9 620.0,171.3" fill="none" stroke="#0000ff" stroke-width="4" stroke-linejoin="round" stroke-linecap="round" shape-rendering="crispEdges"/>
<polyline points="585.6,156.7 587.7,156.8 589.7,156.9 591.7,157.0 593.8,157.0 595.8,157.1 597.8,157.2 599.3,157.3" fill="none" stroke="#0000ff" stroke-width="4" stroke-linejoin="round" stroke-linecap="round" shape-rendering="crispEdges"/>
<polyline points="584.7,160.4 586.2,161.8 587.7,163.1 589.2,164.5 590.7,165.9 592.2,167.3 593.7,168.6 595.2,170.0 596.7,171.4 598.2,172.8 599.7,174.2 601.2,175.5 601.2,175.5" fill="none" stroke="#0000ff" stroke-width="4" stroke-linejoin="round" stroke-linecap="round" shape-rendering="crispEdges"/>
<polyline points="674.0,150.4 676.0,150.7 678.0,151.0 680.0,151.3 682.0,151.7 684.0,152.0 686.0,152.3 687.9,152.6 689.9,152.9 691.9,153.3 693.9,153.6 695.9,153.9 697.9,154.2 699.9,154.5 701.9,154.9 703.8,155.2 705.8,155.5 707.8,155.8 709.8,156.1 711.8,156.4 713.8,156.7 715.7,157.0 717.7,157.3 719.7,157.7 721.7,158.0 723.7,158.3 725.7,158.6 727.6,158.9 729.6,159.2 731.6,159.5 731.6,159.5" fill="none" stroke="#0000ff" stroke-width="4" stroke-linejoin="round" stroke-linecap="round" shape-rendering="crispEdges"/>
<polyline points="761.8,138.5 760.0,139.5 758.3,140.5 756.6,141.5 754.9,142.6 753.1,143.6 751.4,144.6 749.7,145.6 748.0,146.6 746.2,147.6 744.6,148.8 742.9,150.0 741.3,151.2 739.6,152.3 738.0,153.5 736.3,154.7 734.7,155.9 733.4,156.8" fill="none" stroke="#0000ff" stroke-width="4" stroke-linejoin="round" stroke-linecap="round" shape-rendering="crispEdges"/>
<polyline points="734.3,160.4 736.3,160.2 738.3,159.9 740.4,159.6 742.4,159.4 744.4,159.1 746.4,158.9 748.4,158.6 750.4,158.3 752.4,158.1 754.4,157.8 756.4,157.6 758.4,157.5 760.4,157.3 762.4,157.2 764.5,157.0 766.5,156.9 768.5,156.7 770.5,156.6 772.5,156.5 774.6,156.3 776.6,156.2 778.6,156.0 780.6,155.9 782.6,155.7 784.7,155.6 786.7,155.4 788.7,155.3 790.7,155.2 792.7,155.0 793.7,154.9" fill="none" stroke="#0000ff" stroke-width="4" stroke-linejoin="round" stroke-linecap="round" shape-rendering="crispEdges"/>
<polyline points="801.1,157.7 803.0,158.2 805.0,158.7 807.0,159.2 809.0,159.7 810.9,160.2 812.9,160.6 814.9,161.1 816.9,161.6 818.8,162.1 820.8,162.5 822.9,162.7 824.9,163.0 826.9,163.3 828.9,163.5 830.9,163.8 832.9,164.1 835.0,164.3 837.0,164.6 839.0,164.9 840.0,165.0" fill="none" stroke="#0000ff" stroke-width="4" stroke-linejoin="round" stroke-linecap="round" shape-rendering="crispEdges"/>
<polyline points="731.6,163.2 729.7,164.0 727.8,164.8 725.9,165.6 724.1,166.5 722.2,167.3 720.3,168.1 718.4,168.9 716.5,169.7 714.6,170.4 712.6,171.0 710.7,171.7 708.8,172.3 706.8,172.9 704.9,173.6 702.9,174.2 701.0,174.9 700.5,175.0" fill="none" stroke="#0000ff" stroke-width="4" stroke-linejoin="round" stroke-linecap="round" shape-rendering="crispEdges"/>
<polyline points="621.7,172.4 623.6,173.0 625.6,173.6 627.5,174.2 629.4,174.8 631.4,175.4 633.3,176.0 635.3,176.6 637.2,177.2 639.1,177.8 641.1,178.4 643.0,179.0 644.9,179.7 646.8,180.3 648.8,181.0 650.7,181.6 652.6,182.3 654.5,183.0 656.5,183.6 658.4,184.3 660.3,184.9 662.2,185.6 664.2,186.2 666.1,186.9 668.0,187.5 669.5,188.0" fill="none" stroke="#0000ff" stroke-width="4" stroke-linejoin="round" stroke-linecap="round" shape-rendering="crispEdges"/>
<polyline points="696.9,182.4 695.0,183.3 693.2,184.2 691.4,185.2 689.6,186.1 687.7,187.1 685.9,188.0 685.9,188.0" fill="none" stroke="#0000ff" stroke-width="4" stroke-linejoin="round" stroke-linecap="round" shape-rendering="crispEdges"/>
<polyline points="842.0,165.5 844.0,166.1 845.9,166.6 847.8,167.1 849.8,167.7 851.7,168.2 853.7,168.8 855.6,169.3 857.5,169.8 859.5,170.4 861.4,170.9 863.3,171.4 865.3,172.0 867.2,172.5 869.1,173.1 871.1,173.6 873.0,174.1 874.9,174.7 876.9,175.2 878.8,175.7 880.7,176.3 882.7,176.8 884.6,177.4 886.6,177.9 888.5,178.4 889.5,178.7" fill="none" stroke="#0000ff" stroke-width="4" stroke-linejoin="round" stroke-linecap="round" shape-rendering="crispEdges"/>
<polyline points="855.6,148.5 854.1,149.8 852.5,151.1 851.0,152.4 849.4,153.7 847.9,154.9 846.3,156.2 844.8,157.5 843.2,158.8 841.7,160.1 840.1,161.3 840.1,161.3" fill="none" stroke="#0000ff" stroke-width="4" stroke-linejoin="round" stroke-linecap="round" shape-rendering="crispEdges"/>
<polyline points="839.2,168.6 839.5,170.6 839.8,172.6 840.1,174.6 840.4,176.6 840.8,178.6 841.1,180.6 841.4,182.5 841.7,184.5 841.9,186.0" fill="none" stroke="#0000ff" stroke-width="4" stroke-linejoin="round" stroke-linecap="round" shape-rendering="crispEdges"/>
<polyline points="1055.1,270.4 1057.0,271.3 1057.0,271.3" fill="none" stroke="#0000ff" stroke-width="4" stroke-linejoin="round" stroke-linecap="round" shape-rendering="crispEdges"/>
<polyline points="900.0,380.5 901.8,381.4 903.6,382.4 905.4,383.4 907.2,384.3 909.0,385.3 910.8,386.3 912.6,387.2 914.4,388.2 916.2,389.2 918.0,390.2 919.8,391.1 919.8,391.1" fill="none" stroke="#0000ff" stroke-width="4" stroke-linejoin="round" stroke-linecap="round" shape-rendering="crispEdges"/>
<polyline points="886.8,300.4 888.6,299.5 890.4,298.6 892.2,297.7 894.0,296.8 896.0,296.7 898.0,297.0 900.0,297.3 901.9,298.0 903.7,298.9 905.1,299.6" fill="none" stroke="#0000ff" stroke-width="4" stroke-linejoin="round" stroke-linecap="round" shape-rendering="crispEdges"/>
<polyline points="805.3,205.0 804.3,206.8 803.3,208.5 802.3,210.3 801.3,212.0 800.3,213.7 800.0,214.2" fill="none" stroke="#0000ff" stroke-width="4" stroke-linejoin="round" stroke-linecap="round" shape-rendering="crispEdges"/>
<polyline points="800.0,234.7 801.4,236.2 802.9,237.6 804.3,239.0 805.7,240.4 807.1,241.9 808.6,243.3 810.0,244.7 811.4,246.2 811.4,246.2" fill="none" stroke="#0000ff" stroke-width="4" stroke-linejoin="round" stroke-linecap="round" shape-rendering="crispEdges"/>
<polyline points="670.9,189.7 672.8,190.4 674.7,191.1 676.6,191.8 678.5,192.5 679.4,192.8" fill="none" stroke="#0000ff" stroke-width="4" stroke-linejoin="round" stroke-linecap="round" shape-rendering="crispEdges"/>
<polyline points="679.4,192.8 681.2,191.8 682.9,190.8 684.7,189.7 684.7,189.7" fill="none" stroke="#0000ff" stroke-width="4" stroke-linejoin="round" stroke-linecap="round" shape-rendering="crispEdges"/>
<polyline points="680.2,192.8 680.4,194.9 680.7,196.9 681.0,198.9 681.3,201.0 681.6,203.0 681.8,205.0 682.1,207.1 682.4,209.1 682.6,211.1 682.9,213.2 683.2,215.2 683.4,217.2 683.7,219.3 683.9,221.3 684.2,223.3 684.4,225.3 684.7,227.4 684.7,227.9" fill="none" stroke="#0000ff" stroke-width="4" stroke-linejoin="round" stroke-linecap="round" shape-rendering="crispEdges"/>
<polyline points="680.9,193.6 682.6,194.7 684.3,195.7 686.0,196.8 687.7,197.9 689.4,198.9 691.1,200.0 692.8,201.0 694.5,202.1 696.2,203.2 697.9,204.2 699.6,205.3 701.3,206.4 702.9,207.6 704.6,208.7 706.2,209.8 707.9,211.0 709.5,212.1 711.2,213.2 712.9,214.4 713.7,214.9" fill="none" stroke="#0000ff" stroke-width="4" stroke-linejoin="round" stroke-linecap="round" shape-rendering="crispEdges"/>
<polyline points="713.7,215.7 715.4,214.6 717.1,213.4 718.8,212.3 720.4,211.2 722.1,210.1 723.8,208.9 725.5,208.4 727.2,209.6 728.9,210.7 730.6,211.9 732.3,213.1 732.7,213.4" fill="none" stroke="#0000ff" stroke-width="4" stroke-linejoin="round" stroke-linecap="round" shape-rendering="crispEdges"/>
<polyline points="716.0,218.7 717.7,219.7 719.5,220.7 721.3,221.6 723.0,222.6 724.8,223.6 726.5,224.5 728.3,225.5 730.1,226.4 731.8,227.4 732.7,227.9" fill="none" stroke="#0000ff" stroke-width="4" stroke-linejoin="round" stroke-linecap="round" shape-rendering="crispEdges"/>
<polyline points="716.0,218.7 715.4,220.7 714.8,222.7 714.2,224.6 713.6,226.6 713.0,228.6 712.4,230.5 711.8,232.5 711.3,234.5 710.7,236.4 710.1,238.3 709.6,240.3 709.0,242.2 708.5,244.2 708.3,244.6" fill="none" stroke="#0000ff" stroke-width="4" stroke-linejoin="round" stroke-linecap="round" shape-rendering="crispEdges"/>
<polyline points="732.7,227.9 732.2,229.8 731.7,231.8 731.2,233.8 730.8,235.7 730.3,237.7 729.8,239.7 729.3,241.6 728.8,243.6 728.6,245.6 728.3,247.6 728.0,249.6 727.8,251.6 727.5,253.6 727.2,255.5 727.0,257.5 726.7,259.5 726.6,260.0" fill="none" stroke="#0000ff" stroke-width="4" stroke-linejoin="round" stroke-linecap="round" shape-rendering="crispEdges"/>
<polyline points="722.4,193.6 722.5,195.6 722.7,197.7 722.8,199.7 725.0,199.7 727.2,199.6 729.3,199.4 731.4,199.2 733.5,198.9 733.5,198.9" fill="none" stroke="#0000ff" stroke-width="4" stroke-linejoin="round" stroke-linecap="round" shape-rendering="crispEdges"/>
<polyline points="733.5,198.9 733.9,201.0 734.4,203.0 734.8,205.0 735.2,207.1 735.7,209.1 735.5,211.1 735.3,213.2 735.0,215.2 734.7,217.2 734.4,219.3 734.0,221.3 733.6,223.3 733.2,225.3 732.8,227.4 732.7,227.9" fill="none" stroke="#0000ff" stroke-width="4" stroke-linejoin="round" stroke-linecap="round" shape-rendering="crispEdges"/>
<polyline points="744.9,179.1 744.5,181.1 744.1,183.1 743.6,185.1 743.2,187.1 742.8,189.1 742.4,191.0 741.9,193.0 741.5,195.0 741.1,197.0 740.7,199.0 740.2,201.0 739.8,202.9 739.3,204.9 738.8,206.9 738.4,208.9 737.9,210.9 737.5,212.8 737.0,214.8 736.6,216.8 736.1,218.8 735.6,220.8 735.0,222.8 734.4,224.8 733.8,226.9 733.5,227.9" fill="none" stroke="#0000ff" stroke-width="4" stroke-linejoin="round" stroke-linecap="round" shape-rendering="crispEdges"/>
<polyline points="735.8,228.6 737.4,229.8 739.1,230.9 740.8,232.0 742.5,233.2 744.1,234.3 745.8,235.5 747.5,236.6 749.1,237.7 750.8,238.9 752.5,240.0 754.2,241.1 755.8,242.3 757.1,243.1" fill="none" stroke="#0000ff" stroke-width="4" stroke-linejoin="round" stroke-linecap="round" shape-rendering="crispEdges"/>
<polyline points="758.6,244.6 757.8,246.5 757.0,248.3 756.2,250.2 755.4,252.1 754.6,253.9 753.8,255.8 752.9,257.7 752.0,259.6 751.8,260.0" fill="none" stroke="#0000ff" stroke-width="4" stroke-linejoin="round" stroke-linecap="round" shape-rendering="crispEdges"/>
<polyline points="740.3,226.4 741.7,224.8 743.0,223.3 744.4,221.8 745.8,220.3 746.4,219.5" fill="none" stroke="#0000ff" stroke-width="4" stroke-linejoin="round" stroke-linecap="round" shape-rendering="crispEdges"/>
<polyline points="760.1,182.2 759.8,184.2 759.5,186.2 759.4,186.8" fill="none" stroke="#0000ff" stroke-width="4" stroke-linejoin="round" stroke-linecap="round" shape-rendering="crispEdges"/>
<polyline points="772.3,241.6 773.9,240.3 775.4,239.1 777.0,237.8 778.6,236.6 780.1,235.3 781.7,234.1 783.3,232.8 784.8,231.6 786.4,230.3 787.8,229.0 789.0,227.3 790.1,225.6 791.2,224.0 792.3,222.3 793.4,220.6 794.5,218.9 795.7,217.3 796.8,215.6 797.6,214.3" fill="none" stroke="#0000ff" stroke-width="4" stroke-linejoin="round" stroke-linecap="round" shape-rendering="crispEdges"/>
<polyline points="790.6,229.4 792.1,230.7 793.6,232.0 795.2,233.3 796.7,234.6 797.5,235.3" fill="none" stroke="#0000ff" stroke-width="4" stroke-linejoin="round" stroke-linecap="round" shape-rendering="crispEdges"/>
<polyline points="770.8,246.2 770.5,248.2 770.1,250.2 769.8,252.3 769.4,254.3 768.9,256.4 768.3,258.4 767.8,260.0" fill="none" stroke="#0000ff" stroke-width="4" stroke-linejoin="round" stroke-linecap="round" shape-rendering="crispEdges"/>
<polyline points="750.7,261.9 749.7,263.7 748.7,265.5 747.6,267.3 746.6,269.0 745.6,270.8 744.6,272.6 743.6,274.4 743.6,274.4" fill="none" stroke="#0000ff" stroke-width="4" stroke-linejoin="round" stroke-linecap="round" shape-rendering="crispEdges"/>
<polyline points="751.2,264.5 753.2,264.9 755.3,265.3 757.3,265.7 759.3,266.0 761.4,266.2 763.4,266.5 765.4,266.7 766.7,265.8 767.1,263.8 767.4,262.3" fill="none" stroke="#0000ff" stroke-width="4" stroke-linejoin="round" stroke-linecap="round" shape-rendering="crispEdges"/>
<polyline points="766.4,268.3 767.5,270.0 768.6,271.8 769.7,273.5 770.8,275.2 771.9,277.0 773.0,278.7 774.0,280.5 775.0,282.2 776.0,284.0 777.0,285.8 778.0,287.5 779.0,289.3 779.9,291.1 780.9,292.8 781.7,294.2" fill="none" stroke="#0000ff" stroke-width="4" stroke-linejoin="round" stroke-linecap="round" shape-rendering="crispEdges"/>
<polyline points="987.4,313.4 986.6,315.3 985.9,317.2 985.1,319.0 984.3,320.9 983.5,322.8 982.7,324.7 982.0,326.5 981.2,328.4 980.4,330.3 979.8,331.7" fill="none" stroke="#ffff00" stroke-width="4" stroke-linejoin="round" stroke-linecap="round" shape-rendering="crispEdges"/>
<polyline points="484.2,153.1 487.8,156.2" fill="none" stroke="#ff0000" stroke-width="1" stroke-linejoin="round" stroke-linecap="round" shape-rendering="crispEdges"/>
<polyline points="507.9,167.1 513.4,167.7" fill="none" stroke="#ff0000" stroke-width="1" stroke-linejoin="round" stroke-linecap="round" shape-rendering="crispEdges"/>
<polyline points="546.3,127.5 548.5,125.3" fill="none" stroke="#ff0000" stroke-width="1" stroke-linejoin="round" stroke-linecap="round" shape-rendering="crispEdges"/>
<polyline points="898.6,127.9 904.4,136.3" fill="none" stroke="#ff0000" stroke-width="1" stroke-linejoin="round" stroke-linecap="round" shape-rendering="crispEdges"/>
<polyline points="1169.4,172.4 1171.5,173.5" fill="none" stroke="#780000" stroke-width="4.5" stroke-linejoin="round" stroke-linecap="round" shape-rendering="crispEdges"/>
<polyline points="1157.3,227.0 1159.6,228.2" fill="none" stroke="#780000" stroke-width="4.5" stroke-linejoin="round" stroke-linecap="round" shape-rendering="crispEdges"/>
<polyline points="1041.1,254.1 1044.2,255.6" fill="none" stroke="#ff0000" stroke-width="1" stroke-linejoin="round" stroke-linecap="round" shape-rendering="crispEdges"/>
<polyline points="1102.7,317.8 1104.4,320.6" fill="none" stroke="#780000" stroke-width="4.5" stroke-linejoin="round" stroke-linecap="round" shape-rendering="crispEdges"/>
<polyline points="1087.8,435.8 1090.7,437.1" fill="none" stroke="#780000" stroke-width="4.5" stroke-linejoin="round" stroke-linecap="round" shape-rendering="crispEdges"/>
<polyline points="935.0,369.8 938.8,365.2" fill="none" stroke="#ff0000" stroke-width="1" stroke-linejoin="round" stroke-linecap="round" shape-rendering="crispEdges"/>
<polyline points="934.0,187.5 937.1,195.9" fill="none" stroke="#ff0000" stroke-width="1" stroke-linejoin="round" stroke-linecap="round" shape-rendering="crispEdges"/>
<polyline points="763.4,308.6 763.4,314.0 766.4,315.5" fill="none" stroke="#ff0000" stroke-width="1" stroke-linejoin="round" stroke-linecap="round" shape-rendering="crispEdges"/>
<polyline points="822.6,383.3 823.4,389.4" fill="none" stroke="#ff0000" stroke-width="1" stroke-linejoin="round" stroke-linecap="round" shape-rendering="crispEdges"/>
<polyline points="846.2,389.4 850.8,406.2" fill="none" stroke="#ff0000" stroke-width="1" stroke-linejoin="round" stroke-linecap="round" shape-rendering="crispEdges"/>
<polyline points="961.5,528.0 963.7,529.5" fill="none" stroke="#780000" stroke-width="4" stroke-linejoin="round" stroke-linecap="round" shape-rendering="crispEdges"/>
<polyline points="1016.8,533.2 1019.6,535.1" fill="none" stroke="#780000" stroke-width="5" stroke-linejoin="round" stroke-linecap="round" shape-rendering="crispEdges"/>
<polyline points="1006.6,510.9 1004.3,517.8" fill="none" stroke="#ff0000" stroke-width="1" stroke-linejoin="round" stroke-linecap="round" shape-rendering="crispEdges"/>
<path d="M947.5 327.5h3v2h-3z M810 246h3v2h-3z" fill="#ffff00" shape-rendering="crispEdges"/>
<polygon points="732.5,228.5 741,225 761,241.5 761,246.5 756,248" fill="#0000ff" shape-rendering="crispEdges"/>
</svg>
<div class="xl" style="left:65.5px;top:558px">550000.0</div>
<div class="xl" style="left:139.5px;top:558px">560000.0</div>
<div class="xl" style="left:213.5px;top:558px">570000.0</div>
<div class="xl" style="left:286.5px;top:558px">580000.0</div>
<div class="xl" style="left:360.5px;top:558px">590000.0</div>
<div class="xl" style="left:434.5px;top:558px">600000.0</div>
<div class="xl" style="left:508.5px;top:558px">610000.0</div>
<div class="xl" style="left:582.5px;top:558px">620000.0</div>
<div class="xl" style="left:656.5px;top:558px">630000.0</div>
<div class="xl" style="left:729.5px;top:558px">640000.0</div>
<div class="xl" style="left:803.5px;top:558px">650000.0</div>
<div class="xl" style="left:877.5px;top:558px">660000.0</div>
<div class="xl" style="left:951.5px;top:558px">670000.0</div>
<div class="xl" style="left:1025.5px;top:558px">680000.0</div>
<div class="xl" style="left:1098.5px;top:558px">690000.0</div>
<div class="xl" style="left:1172.5px;top:558px">700000.0</div>
<div class="xl" style="left:1246.5px;top:558px">710000.0</div>
<div class="yl" style="top:527.5px">1085000.0</div>
<div class="yl" style="top:490.5px">1090000.0</div>
<div class="yl" style="top:454.5px">1095000.0</div>
<div class="yl" style="top:417.5px">1100000.0</div>
<div class="yl" style="top:380.5px">1105000.0</div>
<div class="yl" style="top:343.5px">1110000.0</div>
<div class="yl" style="top:306.5px">1115000.0</div>
<div class="yl" style="top:269.5px">1120000.0</div>
<div class="yl" style="top:232.5px">1125000.0</div>
<div class="yl" style="top:195.5px">1130000.0</div>
<div class="yl" style="top:158.5px">1135000.0</div>
<div class="yl" style="top:121.5px">1140000.0</div>
<div class="yl" style="top:85.5px">1145000.0</div>
<div class="yl" style="top:48.5px">1150000.0</div>
<div class="t" style="left:589px;top:6px;font-size:14.5px;transform:scaleX(0.938);transform-origin:0 0">WQI (UNDEFINED) - Maximum</div>
<div class="t" style="left:32px;top:2px;font-size:11px;letter-spacing:-0.15px">[meter]</div>
<div class="t" style="left:1274px;top:571px;font-size:11px;letter-spacing:-0.15px">[meter]</div>
<div id="pal">
<div class="ti">Palette</div>
<svg width="22" height="22" style="position:absolute;left:5px;top:3px" shape-rendering="crispEdges"><rect x="5" y="4" width="5" height="1" fill="#000"/><rect x="4" y="5" width="1" height="1" fill="#000"/><rect x="6" y="5" width="2" height="1" fill="#f00"/><rect x="10" y="5" width="2" height="1" fill="#000"/><rect x="4" y="6" width="1" height="1" fill="#000"/><rect x="6" y="6" width="2" height="1" fill="#f00"/><rect x="9" y="6" width="2" height="1" fill="#00f"/><rect x="12" y="6" width="2" height="1" fill="#000"/><rect x="4" y="7" width="1" height="1" fill="#000"/><rect x="6" y="7" width="2" height="1" fill="#000"/><rect x="9" y="7" width="2" height="1" fill="#00f"/><rect x="13" y="7" width="2" height="1" fill="#000"/><rect x="4" y="8" width="1" height="1" fill="#000"/><rect x="11" y="8" width="2" height="1" fill="#ff0"/><rect x="14" y="8" width="1" height="1" fill="#000"/><rect x="4" y="9" width="1" height="1" fill="#000"/><rect x="11" y="9" width="2" height="1" fill="#ff0"/><rect x="15" y="9" width="1" height="1" fill="#000"/><rect x="4" y="10" width="1" height="1" fill="#000"/><rect x="12" y="10" width="2" height="1" fill="#0c0"/><rect x="15" y="10" width="1" height="1" fill="#000"/><rect x="4" y="11" width="1" height="1" fill="#000"/><rect x="12" y="11" width="2" height="1" fill="#0c0"/><rect x="16" y="11" width="1" height="1" fill="#000"/><rect x="4" y="12" width="1" height="1" fill="#000"/><rect x="8" y="12" width="2" height="1" fill="#000"/><rect x="13" y="12" width="1" height="1" fill="#c8c8c8"/><rect x="16" y="12" width="1" height="1" fill="#000"/><rect x="5" y="13" width="1" height="1" fill="#000"/><rect x="8" y="13" width="3" height="1" fill="#000"/><rect x="13" y="13" width="2" height="1" fill="#c8c8c8"/><rect x="16" y="13" width="1" height="1" fill="#000"/><rect x="6" y="14" width="1" height="1" fill="#000"/><rect x="8" y="14" width="4" height="1" fill="#000"/><rect x="17" y="14" width="1" height="1" fill="#000"/><rect x="7" y="15" width="5" height="1" fill="#000"/><rect x="15" y="15" width="1" height="1" fill="#000"/><rect x="17" y="15" width="1" height="1" fill="#000"/><rect x="9" y="16" width="2" height="1" fill="#000"/><rect x="11" y="16" width="7" height="1" fill="#000"/><rect x="11" y="17" width="6" height="1" fill="#000"/></svg>
<svg width="12" height="12" style="position:absolute;left:104px;top:9px"><path d="M0.5 0.5L10.5 10.5M10.5 0.5L0.5 10.5" stroke="#808080" stroke-width="1"/></svg>
<div class="sq" style="top:45px;background:#0000ff"></div>
<div class="bar" style="top:45px;background:#0000ff"></div>
<div class="v1" style="top:44.7px;color:#f00">91.00</div>
<div class="sq" style="top:63px;background:#00ff00"></div>
<div class="bar" style="top:63px;background:#00ff00"></div>
<div class="v1" style="top:62.7px">75.00</div><div class="v2" style="top:62.7px">91.00</div>
<div class="sq" style="top:81px;background:#ffff00"></div>
<div class="bar" style="top:81px;background:#ffff00"></div>
<div class="v1" style="top:80.7px">50.00</div><div class="v2" style="top:80.7px">75.00</div>
<div class="sq" style="top:99px;background:#ff7f3f"></div>
<div class="bar" style="top:99px;background:#ff7f3f"></div>
<div class="v1" style="top:98.7px">25.00</div><div class="v2" style="top:98.7px">50.00</div>
<div class="sq" style="top:117px;background:#ff0000"></div>
<div class="bar" style="top:117px;background:#ff0000"></div>
<div class="v1" style="top:116.7px">10.00</div><div class="v2" style="top:116.7px">25.00</div>
<div class="sq" style="top:135px;background:#780000"></div>
<div class="bar" style="top:135px;background:#780000"></div>
<div class="v2" style="top:134.7px">10.00</div>
<svg width="124" height="166" style="position:absolute;left:0;top:0"><path d="M99.5 49.2L95.2 52.7L99.5 56.2" stroke="#f00" stroke-width="1" fill="none"/><path d="M59.5 139L55.2 142.5L59.5 146" stroke="#000" stroke-width="1" fill="none"/></svg>
</div>
</body></html>
